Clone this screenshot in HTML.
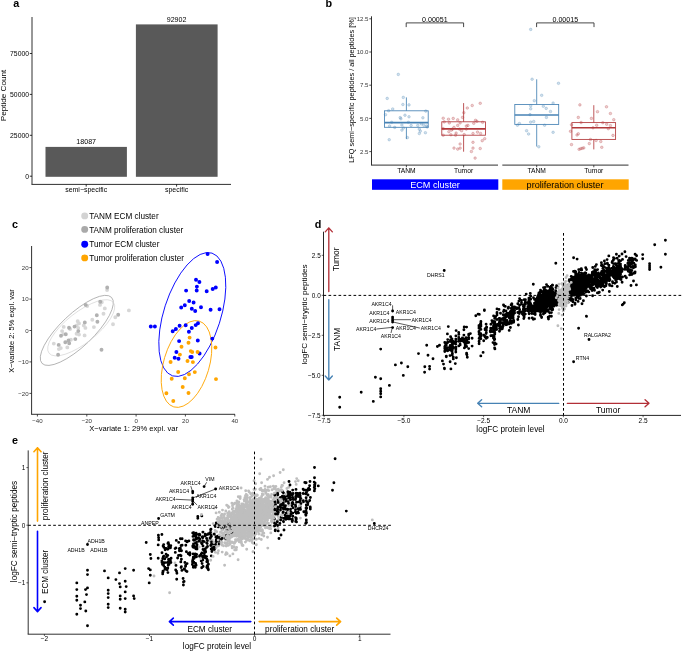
<!DOCTYPE html>
<html><head><meta charset="utf-8"><title>Figure</title>
<style>html,body{margin:0;padding:0;background:#fff}svg{display:block;will-change:transform}text{font-family:"Liberation Sans",sans-serif}</style>
</head><body>
<svg width="685" height="653" viewBox="0 0 685 653">
<rect width="685" height="653" fill="#fff"/>
<text x="13.2" y="7.2" font-size="10.8" font-weight="bold">a</text>
<line x1="32" y1="17" x2="32" y2="184.4" stroke="#303030" stroke-width="1.0"/>
<line x1="31.5" y1="184.4" x2="231" y2="184.4" stroke="#303030" stroke-width="1.0"/>
<line x1="29.8" y1="176.2" x2="32" y2="176.2" stroke="#000" stroke-width="0.8"/>
<text x="29" y="178.6" font-size="6.8" text-anchor="end">0</text>
<line x1="29.8" y1="135.3" x2="32" y2="135.3" stroke="#000" stroke-width="0.8"/>
<text x="29" y="137.7" font-size="6.8" text-anchor="end">25000</text>
<line x1="29.8" y1="94.4" x2="32" y2="94.4" stroke="#000" stroke-width="0.8"/>
<text x="29" y="96.8" font-size="6.8" text-anchor="end">50000</text>
<line x1="29.8" y1="53.5" x2="32" y2="53.5" stroke="#000" stroke-width="0.8"/>
<text x="29" y="55.9" font-size="6.8" text-anchor="end">75000</text>
<rect x="45.5" y="146.9" width="81.4" height="29.9" fill="#595959"/>
<rect x="135.9" y="24.4" width="81.7" height="152.4" fill="#595959"/>
<text x="86.2" y="144.4" font-size="7.1" text-anchor="middle">18087</text>
<text x="176.6" y="22" font-size="7.1" text-anchor="middle">92902</text>
<line x1="86.2" y1="184.4" x2="86.2" y2="186.6" stroke="#000" stroke-width="0.8"/>
<text x="86.2" y="191.9" font-size="6.95" text-anchor="middle">semi−specific</text>
<line x1="176.6" y1="184.4" x2="176.6" y2="186.6" stroke="#000" stroke-width="0.8"/>
<text x="176.6" y="191.9" font-size="6.95" text-anchor="middle">specific</text>
<text transform="translate(6.2 95.5) rotate(-90)" font-size="8.1" text-anchor="middle">Peptide Count</text>
<text x="325.6" y="7.3" font-size="10.8" font-weight="bold">b</text>
<line x1="371.5" y1="16.3" x2="371.5" y2="165.1" stroke="#303030" stroke-width="1.0"/>
<line x1="371" y1="165.1" x2="498" y2="165.1" stroke="#303030" stroke-width="1.0"/>
<line x1="502.3" y1="165.1" x2="628.5" y2="165.1" stroke="#303030" stroke-width="1.0"/>
<line x1="369.3" y1="151.6" x2="371.5" y2="151.6" stroke="#222" stroke-width="0.8"/>
<text x="368.5" y="153.8" font-size="6.1" text-anchor="end" fill="#363636">2.5</text>
<line x1="369.3" y1="118.4" x2="371.5" y2="118.4" stroke="#222" stroke-width="0.8"/>
<text x="368.5" y="120.6" font-size="6.1" text-anchor="end" fill="#363636">5.0</text>
<line x1="369.3" y1="85.2" x2="371.5" y2="85.2" stroke="#222" stroke-width="0.8"/>
<text x="368.5" y="87.4" font-size="6.1" text-anchor="end" fill="#363636">7.5</text>
<line x1="369.3" y1="52" x2="371.5" y2="52" stroke="#222" stroke-width="0.8"/>
<text x="368.5" y="54.2" font-size="6.1" text-anchor="end" fill="#363636">10.0</text>
<line x1="369.3" y1="18.8" x2="371.5" y2="18.8" stroke="#222" stroke-width="0.8"/>
<text x="368.5" y="21" font-size="6.1" text-anchor="end" fill="#363636">12.5</text>
<text transform="translate(353.5 90) rotate(-90)" font-size="7.3" text-anchor="middle">LFQ semi−specific peptides / all peptides [%]</text>
<g fill="#4682b4" fill-opacity="0.25" stroke="#4682b4" stroke-opacity="0.5" stroke-width="0.5">
<circle cx="398.3" cy="74.4" r="1.3"/><circle cx="387.2" cy="98.4" r="1.3"/><circle cx="403.3" cy="97.4" r="1.3"/><circle cx="402.9" cy="104.5" r="1.3"/><circle cx="409" cy="104.9" r="1.3"/><circle cx="392.7" cy="109" r="1.3"/><circle cx="388.6" cy="110.7" r="1.3"/><circle cx="385.5" cy="114.7" r="1.3"/><circle cx="425.8" cy="111.1" r="1.3"/><circle cx="405" cy="115.2" r="1.3"/><circle cx="409" cy="116.8" r="1.3"/><circle cx="422.9" cy="117.8" r="1.3"/><circle cx="400.9" cy="118.8" r="1.3"/><circle cx="391.7" cy="122.3" r="1.3"/><circle cx="408.4" cy="122.3" r="1.3"/><circle cx="401.9" cy="125" r="1.3"/><circle cx="389.6" cy="126" r="1.3"/><circle cx="394.7" cy="127.4" r="1.3"/><circle cx="411.1" cy="125.4" r="1.3"/><circle cx="417.8" cy="125.4" r="1.3"/><circle cx="421.3" cy="123.9" r="1.3"/><circle cx="426.4" cy="126" r="1.3"/><circle cx="403.5" cy="128" r="1.3"/><circle cx="401.9" cy="130.1" r="1.3"/><circle cx="419.3" cy="129.1" r="1.3"/><circle cx="420.3" cy="131.1" r="1.3"/><circle cx="419.3" cy="133.5" r="1.3"/><circle cx="425.4" cy="132.7" r="1.3"/><circle cx="407.4" cy="137.6" r="1.3"/><circle cx="389.2" cy="139.7" r="1.3"/><circle cx="400.2" cy="117.6" r="1.3"/><circle cx="423.8" cy="125.2" r="1.3"/><circle cx="427.2" cy="127" r="1.3"/>
</g>
<line x1="406.4" y1="97.4" x2="406.4" y2="110.8" stroke="#4682b4" stroke-width="0.85"/>
<line x1="406.4" y1="127.3" x2="406.4" y2="139.1" stroke="#4682b4" stroke-width="0.85"/>
<rect x="384.5" y="110.8" width="43.7" height="16.5" fill="none" stroke="#4682b4" stroke-width="0.85"/>
<line x1="384.5" y1="122.6" x2="428.2" y2="122.6" stroke="#4682b4" stroke-width="1.6"/>
<g fill="#b2393b" fill-opacity="0.25" stroke="#b2393b" stroke-opacity="0.5" stroke-width="0.5">
<circle cx="480.2" cy="103.3" r="1.3"/><circle cx="472.2" cy="105.5" r="1.3"/><circle cx="467.3" cy="108" r="1.3"/><circle cx="463.8" cy="112.7" r="1.3"/><circle cx="462.6" cy="117.4" r="1.3"/><circle cx="443.2" cy="118.2" r="1.3"/><circle cx="448.5" cy="119.2" r="1.3"/><circle cx="453.2" cy="118.4" r="1.3"/><circle cx="457.7" cy="119.9" r="1.3"/><circle cx="475.5" cy="120.3" r="1.3"/><circle cx="476.9" cy="121.3" r="1.3"/><circle cx="482.6" cy="122.3" r="1.3"/><circle cx="444.2" cy="121.9" r="1.3"/><circle cx="449.3" cy="122.9" r="1.3"/><circle cx="460.1" cy="122.9" r="1.3"/><circle cx="473.8" cy="123.3" r="1.3"/><circle cx="457.7" cy="125.4" r="1.3"/><circle cx="466.3" cy="126" r="1.3"/><circle cx="467.9" cy="125.4" r="1.3"/><circle cx="454" cy="127.4" r="1.3"/><circle cx="452.4" cy="129.1" r="1.3"/><circle cx="443.2" cy="128.6" r="1.3"/><circle cx="459.5" cy="129.1" r="1.3"/><circle cx="466.3" cy="129.1" r="1.3"/><circle cx="451.4" cy="130.1" r="1.3"/><circle cx="461.6" cy="130.7" r="1.3"/><circle cx="448.9" cy="131.7" r="1.3"/><circle cx="477.5" cy="132.1" r="1.3"/><circle cx="456.1" cy="133.1" r="1.3"/><circle cx="473" cy="133.5" r="1.3"/><circle cx="480.6" cy="133.5" r="1.3"/><circle cx="464.2" cy="134.6" r="1.3"/><circle cx="443.2" cy="135.2" r="1.3"/><circle cx="450.9" cy="134.8" r="1.3"/><circle cx="455.6" cy="135.2" r="1.3"/><circle cx="484.7" cy="138.7" r="1.3"/><circle cx="482.2" cy="140.7" r="1.3"/><circle cx="473" cy="142.3" r="1.3"/><circle cx="460.1" cy="144" r="1.3"/><circle cx="454" cy="148.1" r="1.3"/><circle cx="457.7" cy="149.1" r="1.3"/><circle cx="460.1" cy="148.1" r="1.3"/><circle cx="473" cy="148.1" r="1.3"/><circle cx="480.2" cy="148.5" r="1.3"/><circle cx="471.4" cy="151.5" r="1.3"/><circle cx="475.1" cy="158.1" r="1.3"/>
</g>
<line x1="463.6" y1="103.1" x2="463.6" y2="121.8" stroke="#b2393b" stroke-width="0.85"/>
<line x1="463.6" y1="135.2" x2="463.6" y2="151.7" stroke="#b2393b" stroke-width="0.85"/>
<rect x="441.8" y="121.8" width="43.7" height="13.4" fill="none" stroke="#b2393b" stroke-width="0.85"/>
<line x1="441.8" y1="128.9" x2="485.5" y2="128.9" stroke="#b2393b" stroke-width="1.6"/>
<g fill="#4682b4" fill-opacity="0.25" stroke="#4682b4" stroke-opacity="0.5" stroke-width="0.5">
<circle cx="530.7" cy="29.4" r="1.3"/><circle cx="532.1" cy="79.2" r="1.3"/><circle cx="558.5" cy="83.3" r="1.3"/><circle cx="541.7" cy="95.3" r="1.3"/><circle cx="534.3" cy="100.7" r="1.3"/><circle cx="553.1" cy="103.1" r="1.3"/><circle cx="530.7" cy="105.8" r="1.3"/><circle cx="543.3" cy="106.2" r="1.3"/><circle cx="530.7" cy="108.8" r="1.3"/><circle cx="546.2" cy="108.4" r="1.3"/><circle cx="550.5" cy="111.5" r="1.3"/><circle cx="530" cy="114.6" r="1.3"/><circle cx="546.4" cy="117.4" r="1.3"/><circle cx="530.7" cy="122.1" r="1.3"/><circle cx="533.7" cy="121.5" r="1.3"/><circle cx="519.4" cy="123.5" r="1.3"/><circle cx="517.4" cy="125.2" r="1.3"/><circle cx="544.6" cy="125.2" r="1.3"/><circle cx="526.6" cy="130.7" r="1.3"/><circle cx="528.6" cy="134" r="1.3"/><circle cx="553.1" cy="132.3" r="1.3"/><circle cx="538.8" cy="146.8" r="1.3"/>
</g>
<line x1="536.7" y1="79.3" x2="536.7" y2="104.5" stroke="#4682b4" stroke-width="0.85"/>
<line x1="536.7" y1="124.4" x2="536.7" y2="146.5" stroke="#4682b4" stroke-width="0.85"/>
<rect x="514.8" y="104.5" width="43.9" height="19.9" fill="none" stroke="#4682b4" stroke-width="0.85"/>
<line x1="514.8" y1="115" x2="558.7" y2="115" stroke="#4682b4" stroke-width="1.6"/>
<g fill="#b2393b" fill-opacity="0.25" stroke="#b2393b" stroke-opacity="0.5" stroke-width="0.5">
<circle cx="579.9" cy="104.9" r="1.3"/><circle cx="606.5" cy="106.8" r="1.3"/><circle cx="597.5" cy="111.7" r="1.3"/><circle cx="610.4" cy="113.5" r="1.3"/><circle cx="578.3" cy="117.4" r="1.3"/><circle cx="591.4" cy="118.4" r="1.3"/><circle cx="613.8" cy="119.7" r="1.3"/><circle cx="581.1" cy="122.5" r="1.3"/><circle cx="602.8" cy="122.7" r="1.3"/><circle cx="606.7" cy="124.2" r="1.3"/><circle cx="596.7" cy="125.2" r="1.3"/><circle cx="610.4" cy="125.6" r="1.3"/><circle cx="571.5" cy="124.8" r="1.3"/><circle cx="593" cy="127.8" r="1.3"/><circle cx="608.3" cy="128.7" r="1.3"/><circle cx="570.5" cy="131.3" r="1.3"/><circle cx="578.3" cy="133.8" r="1.3"/><circle cx="577" cy="135" r="1.3"/><circle cx="613" cy="135.4" r="1.3"/><circle cx="590.5" cy="139.5" r="1.3"/><circle cx="596.1" cy="140.5" r="1.3"/><circle cx="600.8" cy="141.5" r="1.3"/><circle cx="589.3" cy="143.6" r="1.3"/><circle cx="571.5" cy="144.6" r="1.3"/><circle cx="601.8" cy="147.3" r="1.3"/><circle cx="579.1" cy="149.3" r="1.3"/><circle cx="580.7" cy="148.7" r="1.3"/><circle cx="582.2" cy="148.3" r="1.3"/><circle cx="583.8" cy="147.9" r="1.3"/>
</g>
<line x1="593.8" y1="105.2" x2="593.8" y2="122.6" stroke="#b2393b" stroke-width="0.85"/>
<line x1="593.8" y1="139.4" x2="593.8" y2="149.4" stroke="#b2393b" stroke-width="0.85"/>
<rect x="571.9" y="122.6" width="43.7" height="16.8" fill="none" stroke="#b2393b" stroke-width="0.85"/>
<line x1="571.9" y1="127.8" x2="615.6" y2="127.8" stroke="#b2393b" stroke-width="1.6"/>
<path d="M406.2 27.1V22.9H463.6V27.1" fill="none" stroke="#333" stroke-width="0.9"/>
<text x="434.9" y="21.6" font-size="7.1" text-anchor="middle">0.00051</text>
<path d="M536.6 27.1V22.9H594V27.1" fill="none" stroke="#333" stroke-width="0.9"/>
<text x="565.3" y="21.6" font-size="7.1" text-anchor="middle">0.00015</text>
<line x1="406.4" y1="165.1" x2="406.4" y2="167.3" stroke="#222" stroke-width="0.8"/>
<text x="406.4" y="172.8" font-size="6.7" text-anchor="middle">TANM</text>
<line x1="463.6" y1="165.1" x2="463.6" y2="167.3" stroke="#222" stroke-width="0.8"/>
<text x="463.6" y="172.8" font-size="6.7" text-anchor="middle">Tumor</text>
<line x1="536.7" y1="165.1" x2="536.7" y2="167.3" stroke="#222" stroke-width="0.8"/>
<text x="536.7" y="172.8" font-size="6.7" text-anchor="middle">TANM</text>
<line x1="593.8" y1="165.1" x2="593.8" y2="167.3" stroke="#222" stroke-width="0.8"/>
<text x="593.8" y="172.8" font-size="6.7" text-anchor="middle">Tumor</text>
<rect x="372" y="179.3" width="126.3" height="10.5" fill="#0000ff"/>
<rect x="502.3" y="179.3" width="126.4" height="10.5" fill="#ffa500"/>
<text x="435" y="187.7" font-size="9.1" text-anchor="middle" fill="#fff">ECM cluster</text>
<text x="565" y="187.7" font-size="9.1" text-anchor="middle">proliferation cluster</text>
<text x="12" y="228.1" font-size="10.8" font-weight="bold">c</text>
<circle cx="84.7" cy="215.9" r="3.45" fill="#d3d3d3"/>
<text x="89.2" y="219" font-size="8.2">TANM ECM cluster</text>
<circle cx="84.7" cy="229.4" r="3.45" fill="#a9a9a9"/>
<text x="89.2" y="232.5" font-size="8.2">TANM proliferation cluster</text>
<circle cx="84.7" cy="244.3" r="3.45" fill="#0000ff"/>
<text x="89.2" y="247.4" font-size="8.2">Tumor ECM cluster</text>
<circle cx="84.7" cy="257.9" r="3.45" fill="#ffa500"/>
<text x="89.2" y="261" font-size="8.2">Tumor proliferation cluster</text>
<line x1="31.6" y1="246" x2="31.6" y2="414.3" stroke="#303030" stroke-width="1.0"/>
<line x1="31.1" y1="414.3" x2="235" y2="414.3" stroke="#303030" stroke-width="1.0"/>
<line x1="29.4" y1="393.4" x2="31.6" y2="393.4" stroke="#222" stroke-width="0.8"/>
<text x="28.6" y="395.6" font-size="6.1" text-anchor="end" fill="#363636">−20</text>
<line x1="29.4" y1="361.9" x2="31.6" y2="361.9" stroke="#222" stroke-width="0.8"/>
<text x="28.6" y="364.1" font-size="6.1" text-anchor="end" fill="#363636">−10</text>
<line x1="29.4" y1="330.5" x2="31.6" y2="330.5" stroke="#222" stroke-width="0.8"/>
<text x="28.6" y="332.7" font-size="6.1" text-anchor="end" fill="#363636">0</text>
<line x1="29.4" y1="299.1" x2="31.6" y2="299.1" stroke="#222" stroke-width="0.8"/>
<text x="28.6" y="301.2" font-size="6.1" text-anchor="end" fill="#363636">10</text>
<line x1="29.4" y1="267.6" x2="31.6" y2="267.6" stroke="#222" stroke-width="0.8"/>
<text x="28.6" y="269.8" font-size="6.1" text-anchor="end" fill="#363636">20</text>
<line x1="37.4" y1="414.3" x2="37.4" y2="416.5" stroke="#222" stroke-width="0.8"/>
<text x="37.4" y="422.5" font-size="6.1" text-anchor="middle" fill="#363636">−40</text>
<line x1="86.8" y1="414.3" x2="86.8" y2="416.5" stroke="#222" stroke-width="0.8"/>
<text x="86.8" y="422.5" font-size="6.1" text-anchor="middle" fill="#363636">−20</text>
<line x1="136.1" y1="414.3" x2="136.1" y2="416.5" stroke="#222" stroke-width="0.8"/>
<text x="136.1" y="422.5" font-size="6.1" text-anchor="middle" fill="#363636">0</text>
<line x1="185.4" y1="414.3" x2="185.4" y2="416.5" stroke="#222" stroke-width="0.8"/>
<text x="185.4" y="422.5" font-size="6.1" text-anchor="middle" fill="#363636">20</text>
<line x1="234.8" y1="414.3" x2="234.8" y2="416.5" stroke="#222" stroke-width="0.8"/>
<text x="234.8" y="422.5" font-size="6.1" text-anchor="middle" fill="#363636">40</text>
<text transform="translate(14 331) rotate(-90)" font-size="7.5" text-anchor="middle">X−variate 2: 5% expl. var</text>
<text x="133.6" y="431.2" font-size="7.6" text-anchor="middle">X−variate 1: 29% expl. var</text>
<ellipse cx="76.8" cy="330.4" rx="47.92" ry="16.37" transform="rotate(136.5 76.8 330.4)" fill="none" stroke="#9a9a9a" stroke-width="0.7"/>
<ellipse cx="81.2" cy="327.8" rx="41" ry="15.3" transform="rotate(-38.3 81.2 327.8)" fill="none" stroke="#cfcfcf" stroke-width="0.6"/>
<ellipse cx="192.3" cy="314.5" rx="64.47" ry="28.46" transform="rotate(107.8 192.3 314.5)" fill="none" stroke="#0000ff" stroke-width="0.85"/>
<ellipse cx="186.5" cy="364" rx="44.76" ry="22.82" transform="rotate(106.5 186.5 364)" fill="none" stroke="#ffa500" stroke-width="0.85"/>
<path d="M107.1 290h0M101.8 302.2h0M100 304.9h0M87.2 306h0M104.8 308.4h0M128.9 310.4h0M103.5 313.7h0M115.3 317.3h0M92.3 319.8h0M113 324.2h0M77.7 321.3h0M79 323.4h0M76.6 325.4h0M83.8 325.4h0M85.4 327.9h0M93.9 327.1h0M78.2 327.9h0M63.7 326.9h0M70.1 329h0M62.1 331.1h0M76.6 333.8h0M79 334.6h0M84.6 335.4h0M63.4 334.1h0M70.9 339.7h0M53.8 343.6h0M67.3 347.4h0M60.8 348.1h0M58.9 349.1h0" stroke="#d3d3d3" stroke-width="3.9" stroke-linecap="round" fill="none" opacity="0.9"/>
<path d="M107.2 287.5h0M100.2 301.7h0M85.7 304.9h0M96.8 315.2h0M118.2 314.8h0M97.4 321.8h0M84.8 322.4h0M69 327.7h0M74.5 326.6h0M78.3 331.1h0M65.8 334.3h0M61 335.7h0M75.3 339.1h0M68.5 340.4h0M65.3 342.3h0M69.2 343.3h0M58.7 344.9h0M101.5 349.7h0M58.1 354.7h0" stroke="#a9a9a9" stroke-width="3.9" stroke-linecap="round" fill="none" opacity="0.9"/>
<path d="M207.6 254h0M217.1 261.9h0M196 279.8h0M199.4 282h0M196.9 286.6h0M196.7 290.5h0M186.1 290.6h0M206.7 291.3h0M212.7 288.9h0M215.8 287.5h0M189.2 301h0M193.6 302.5h0M184.8 305.2h0M181.2 307.4h0M191.8 308.7h0M195.2 311h0M201 307.3h0M210.6 309.7h0M219.5 309.2h0M150.8 326.4h0M154.9 326.4h0M179.6 325.8h0M185.7 325.3h0M175.9 329h0M172.7 331.3h0M191.8 327.9h0M188.9 331.8h0M195.7 325.1h0M198 323.2h0M179.1 341.1h0M197.8 340.4h0M212.3 338.6h0M176.4 351.9h0M199.6 353.5h0M174.7 357.7h0M178.5 358.8h0M190.4 357h0M191.7 357h0" stroke="#0000ff" stroke-width="3.95" stroke-linecap="round" fill="none"/>
<path d="M189.6 337.6h0M188.5 342.8h0M181.5 346.8h0M215.5 347.5h0M190.8 351.1h0M192.2 351.9h0M197.6 351.9h0M179.9 354.6h0M170.6 361.9h0M187.5 360.9h0M192.9 362.1h0M178.2 371.9h0M189 374.2h0M194.8 372.1h0M171.7 378.7h0M184.8 378.2h0M216 379.1h0M182.7 387h0M166.4 393.3h0M188.5 392.9h0M173.3 401h0" stroke="#ffa500" stroke-width="3.95" stroke-linecap="round" fill="none"/>
<text x="314.7" y="227.7" font-size="10.8" font-weight="bold">d</text>
<line x1="323.5" y1="231.7" x2="323.5" y2="415.4" stroke="#262626" stroke-width="1.0"/>
<line x1="323" y1="415.4" x2="681" y2="415.4" stroke="#262626" stroke-width="1.0"/>
<line x1="321.7" y1="255.3" x2="323.5" y2="255.3" stroke="#000" stroke-width="0.6"/>
<text x="320.7" y="257.6" font-size="6.4" text-anchor="end">2.5</text>
<line x1="321.7" y1="295.3" x2="323.5" y2="295.3" stroke="#000" stroke-width="0.6"/>
<text x="320.7" y="297.6" font-size="6.4" text-anchor="end">0.0</text>
<line x1="321.7" y1="335.3" x2="323.5" y2="335.3" stroke="#000" stroke-width="0.6"/>
<text x="320.7" y="337.6" font-size="6.4" text-anchor="end">−2.5</text>
<line x1="321.7" y1="375.3" x2="323.5" y2="375.3" stroke="#000" stroke-width="0.6"/>
<text x="320.7" y="377.6" font-size="6.4" text-anchor="end">−5.0</text>
<line x1="321.7" y1="415.3" x2="323.5" y2="415.3" stroke="#000" stroke-width="0.6"/>
<text x="320.7" y="417.6" font-size="6.4" text-anchor="end">−7.5</text>
<line x1="324.1" y1="415.4" x2="324.1" y2="417.2" stroke="#000" stroke-width="0.6"/>
<text x="324.1" y="423.4" font-size="6.5" text-anchor="middle">−7.5</text>
<line x1="403.9" y1="415.4" x2="403.9" y2="417.2" stroke="#000" stroke-width="0.6"/>
<text x="403.9" y="423.4" font-size="6.5" text-anchor="middle">−5.0</text>
<line x1="483.6" y1="415.4" x2="483.6" y2="417.2" stroke="#000" stroke-width="0.6"/>
<text x="483.6" y="423.4" font-size="6.5" text-anchor="middle">−2.5</text>
<line x1="563.4" y1="415.4" x2="563.4" y2="417.2" stroke="#000" stroke-width="0.6"/>
<text x="563.4" y="423.4" font-size="6.5" text-anchor="middle">0.0</text>
<line x1="643.1" y1="415.4" x2="643.1" y2="417.2" stroke="#000" stroke-width="0.6"/>
<text x="643.1" y="423.4" font-size="6.5" text-anchor="middle">2.5</text>
<text transform="translate(307.2 314.5) rotate(-90)" font-size="8.1" text-anchor="middle">logFC semi−tryptic peptides</text>
<text x="510.5" y="431.6" font-size="8.2" text-anchor="middle">logFC protein level</text>
<path d="M328.8 291.5L328.8 227.9M332.35 231.84L328.8 227.9L325.25 231.84" fill="none" stroke="#b22f37" stroke-width="1.35" stroke-linecap="round" stroke-linejoin="round"/>
<path d="M328.8 299.7L328.8 380M325.25 376.06L328.8 380L332.35 376.06" fill="none" stroke="#4682b4" stroke-width="1.35" stroke-linecap="round" stroke-linejoin="round"/>
<path d="M558.8 403.3L477.7 403.3M481.64 399.75L477.7 403.3L481.64 406.85" fill="none" stroke="#4682b4" stroke-width="1.35" stroke-linecap="round" stroke-linejoin="round"/>
<path d="M567.3 403.3L649 403.3M645.06 406.85L649 403.3L645.06 399.75" fill="none" stroke="#b22f37" stroke-width="1.35" stroke-linecap="round" stroke-linejoin="round"/>
<text transform="translate(339.2 259.4) rotate(-90)" font-size="8.4" text-anchor="middle">Tumor</text>
<text transform="translate(339.6 339.4) rotate(-90)" font-size="8.4" text-anchor="middle">TANM</text>
<text x="518.7" y="413.2" font-size="8.5" text-anchor="middle">TANM</text>
<text x="608.1" y="413.2" font-size="8.5" text-anchor="middle">Tumor</text>
<path d="M565.4 296.6h0M558.2 286.8h0M568.6 289.8h0M562.4 306.5h0M566.5 287.1h0M562 292.6h0M557.1 299h0M555.1 300.7h0M562 298.2h0M565.8 303.8h0M562.8 294.8h0M563.6 297.1h0M560.3 305.1h0M563.5 294.9h0M563.9 284.4h0M565 293.7h0M561.1 298.6h0M568.7 288.8h0M567.1 292.7h0M565.9 291.9h0M560.7 304.9h0M564.4 309h0M566.4 296.8h0M564.9 292.3h0M562.6 297.7h0M564.3 295.5h0M561.6 306.2h0M567.2 288.4h0M558.1 297.2h0M565.9 301.4h0M568.7 294.5h0M563.8 290.6h0M565 298.8h0M555.3 298.7h0M559.1 297.8h0M567.1 291.3h0M566 306h0M567.2 286.7h0M559.2 305.5h0M560 292.1h0M567 296.7h0M558 297.4h0M565.3 288.7h0M562.2 295.2h0M562.6 297.5h0M559.6 294h0M567.4 287h0M562.5 299.6h0M566.7 290.1h0M563.2 294.6h0M565.7 281.4h0M565.4 288.2h0M563.4 302.6h0M568.8 297.3h0M559.6 299.7h0M568.2 297.7h0M567.8 290.2h0M563.9 290.8h0M562.8 288.8h0M560.2 295.4h0M566.2 289.8h0M562.7 303.8h0M568.4 298.5h0M564.8 286.5h0M564.6 296.6h0M563.4 302.3h0M560.8 300.5h0M562.8 301.3h0M563.8 294.5h0M559.7 297.3h0M568.6 280.9h0M558.5 296.2h0M558.8 313.4h0M561.9 290.7h0M563.5 296.1h0M564.8 295h0M562.4 290.9h0M567.1 275.6h0M564.3 304.2h0M564.6 305.9h0M559.7 297.5h0M561.5 293.2h0M563.6 288.1h0M568.7 286.4h0M567 287.6h0M564.3 297.5h0M558.5 295.5h0M559.3 291.5h0M564.1 293.9h0M563 296.3h0M562.2 301.6h0M563.4 292.4h0M564.4 298.7h0M560.7 291.4h0M561 296.7h0M563.2 288h0M560.7 302h0M567.5 292.6h0M564.6 288.5h0M565.8 301.2h0M563.6 292.8h0M562.2 300h0M564.4 282.6h0M560.2 305h0M565.8 298.9h0M563.1 306.7h0M563.9 293.5h0M564.5 295.4h0M564.8 291.7h0M559.1 309.6h0M559.3 290.2h0M564.8 294.1h0M564.9 293.7h0M566 277.5h0M564.4 294.6h0M563.2 286.9h0M561.1 295h0M569 288.6h0M563.4 291.4h0M567.1 285.3h0M565.7 295.7h0M561.3 297.7h0M570.9 294.6h0M565.1 283.9h0M562 290h0M562.6 308.5h0M562.3 290.2h0M563.9 308.4h0M560.4 299.8h0M561.1 289.9h0M566.6 290.3h0M564.9 294.4h0M563.5 299.9h0M561.4 302.7h0M561.7 302h0M566.4 299.6h0M562.9 285.2h0M568.4 291.4h0M557.9 325.7h0M561.3 328.6h0M563.2 311h0M563.8 306.5h0M562.5 303.8h0" stroke="#bebebe" stroke-width="2.9" stroke-linecap="round" fill="none"/>
<path d="M543.4 304.6h0M543.4 304.2h0M543.4 299.4h0M543.4 314h0M543.4 306.4h0M546 292.4h0M546 297.6h0M446.3 350.2h0M446.3 356.7h0M446.3 356.2h0M446.3 356.1h0M446.3 348.5h0M446.3 349.2h0M446.3 345h0M513.7 313.7h0M513.7 321.8h0M513.7 320.5h0M509.1 323.9h0M509.1 315.4h0M486.3 329h0M486.3 332.6h0M486.3 330.4h0M511.1 314h0M511.1 308.4h0M511.1 314.9h0M511.1 313.2h0M511.1 305h0M511.1 311.3h0M510.4 320.6h0M510.4 320.9h0M510.4 315.1h0M528.1 302.4h0M545.6 295.5h0M545.6 292.7h0M545.6 301.2h0M545.6 297.2h0M545.6 298.5h0M552.6 299.9h0M552.6 300h0M552.6 291.4h0M552.6 309.8h0M523.4 305.1h0M502.6 318.7h0M556.7 299.8h0M556.7 292.7h0M556.7 294.1h0M556.2 295.4h0M556.2 293.8h0M556.2 300.6h0M533.7 310.8h0M533.7 307h0M519.6 305.3h0M519.6 309.5h0M519.6 298.8h0M519.6 311.4h0M546.5 294.9h0M538.4 295.6h0M538.4 307.8h0M538.4 306.8h0M538.4 301.1h0M550.3 299.4h0M550.3 301.1h0M550.3 292.7h0M550.3 294.1h0M550.3 288.8h0M550.3 299.7h0M546.7 298.3h0M546.7 303.6h0M547.7 291h0M547.7 298.8h0M547.7 300.2h0M547.7 303.9h0M547.7 297.1h0M531.6 305.6h0M531.6 306.8h0M531.6 310.1h0M513.9 311.3h0M493.5 325.9h0M493.5 328.2h0M493.5 321.4h0M493.5 326.7h0M545.4 303.2h0M494.8 321.7h0M494.8 322.9h0M494.8 321.8h0M553.3 293.1h0M511.5 321.3h0M511.5 322.1h0M511.5 314.9h0M511.5 322h0M553.4 297.7h0M542 298.7h0M542 298h0M542 301h0M542 291.8h0M542 297.8h0M460.1 344.9h0M460.1 341.3h0M460.1 344.3h0M460.1 339.3h0M536.2 306.5h0M536.2 306.9h0M544.9 305.7h0M551.4 316.3h0M551.4 303.5h0M551.4 303.2h0M551.4 309.6h0M551.4 312.6h0M495.6 328.1h0M495.6 325.8h0M495.6 316.8h0M539.4 305.9h0M539.4 294.9h0M539.4 300.3h0M555.7 296.9h0M555.7 294.5h0M555.7 290.7h0M541.6 294.9h0M541.6 303.8h0M541.6 300.2h0M556.6 295.3h0M556.6 294.3h0M556.6 292.8h0M556.6 285.8h0M556.6 305.3h0M523.8 318.6h0M523.8 306.6h0M486.1 330.3h0M486.1 330.4h0M486.1 324.2h0M486.1 327.7h0M486.1 333.5h0M486.1 337h0M486.1 338.4h0M513.1 318.3h0M513.1 317.2h0M539.1 308.8h0M539.1 304.2h0M548.8 292.8h0M548.8 294.8h0M548.8 299.9h0M548.1 305.5h0M548.1 291.4h0M548.1 298.5h0M548.1 292.1h0M548.3 318h0M548.3 294.7h0M466.6 353.3h0M466.6 354.2h0M466.6 342h0M466.6 339.6h0M466.6 340.8h0M466.6 346.4h0M466.6 343.2h0M502.7 327.6h0M502.7 327h0M502.7 319.6h0M450.6 336.7h0M450.6 340h0M450.6 346.9h0M450.6 348.6h0M450.6 347.1h0M544.7 292.5h0M544.7 299.5h0M544.7 295.2h0M544.7 292.8h0M539.9 302.2h0M453.8 347.6h0M453.8 341.6h0M453.8 343.4h0M453.8 343.3h0M493.5 328.9h0M493.5 329.6h0M539.6 300.8h0M549.3 299.4h0M549.3 293.9h0M549.3 305.9h0M503.2 318.5h0M503.2 314.8h0M503.2 324.7h0M503.2 318.6h0M544.1 309.6h0M544.1 310.6h0M543.8 301.7h0M543.8 294.7h0M493.4 338h0M493.4 329h0M553.1 292.5h0M553.1 292.4h0M546.2 307.3h0M546.2 303.2h0M546.2 298.8h0M546.2 304.6h0M547.8 297.4h0M547.8 297.9h0M547.8 301.4h0M518.5 316.7h0M503.6 323.2h0M503.6 319.7h0M503.6 317.9h0M549.3 301.1h0M522.4 314h0M546.3 291h0M546.3 297.8h0M546.3 296.7h0M538.4 300h0M538.4 308.8h0M538.4 298.7h0M538.4 301h0M553.4 301.2h0M553.4 303.6h0M553.4 302.1h0M553.4 299.5h0M538.3 304.6h0M538.3 311.1h0M450.2 345.5h0M450.2 347.9h0M450.2 346.3h0M450.2 345.9h0M450.2 341.4h0M450.2 350h0M450.2 347.2h0M445.2 346.3h0M445.2 343.5h0M445.2 348.4h0M445.2 346.4h0M445.2 342.6h0M553.7 294.2h0M553.7 296.7h0M553.7 302h0M553.7 293.2h0M553.7 294.4h0M553.7 300.1h0M546.9 303.3h0M549.8 298.6h0M549.8 307h0M549.8 316.2h0M524.2 309.8h0M524.2 312.2h0M524.2 317.1h0M524.2 315.1h0M524.2 299.8h0M545.4 296h0M545.4 304.5h0M546.3 301.2h0M546.3 307.8h0M546.3 306.7h0M546.3 305.6h0M546.3 297.2h0M549.3 293.9h0M549.3 301.1h0M549.3 298.8h0M540.1 304.8h0M525.4 299.7h0M525.4 309.3h0M525.4 302h0M479 325.5h0M479 328.3h0M479 332h0M479 327h0M479 331.4h0M523.4 311.3h0M523.4 306.6h0M546 303.8h0M546 299.1h0M546 304.5h0M546 302.6h0M506.5 316.2h0M552.7 304.3h0M552.7 300.1h0M552.7 294.8h0M505.3 314.6h0M505.3 317.4h0M505.3 306.4h0M541 303.7h0M541 299.2h0M541.8 301.5h0M493.1 331.8h0M545.3 305.7h0M545.3 298h0M533.6 308.2h0M498.1 324.2h0M498.1 324.2h0M525.3 314.1h0M525.3 304.3h0M525.3 310.7h0M542.9 302.7h0M542.9 305.4h0M542.9 298.7h0M542.9 301h0M542.9 311.3h0M537.2 308.3h0M539.8 299.4h0M539.8 305.5h0M539.8 298.8h0M539.8 295.6h0M539.8 303.1h0M552.6 304.9h0M552.6 299.7h0M552.6 285.3h0M552.6 299.1h0M552.6 303.2h0M548.6 290.7h0M548.6 299.9h0M548.6 300.3h0M548.6 298.5h0M524.3 309.3h0M524.3 310.1h0M524.3 306.4h0M524.3 310.5h0M505.4 317.7h0M496.6 329.5h0M527.9 303.4h0M527.9 306.6h0M527.9 308.5h0M527.9 310.9h0M538.5 297.5h0M538.5 296.1h0M538.5 294.7h0M550 304.8h0M550 308.3h0M536.1 305.3h0M536.1 307.6h0M536.1 310.2h0M493 328h0M493 342.6h0M557.3 302.5h0M557.3 287.2h0M557.3 295.6h0M557.3 301.3h0M510.3 313.3h0M510.3 318.2h0M541.4 300h0M541.4 308h0M468.7 334.3h0M468.7 334.9h0M468.7 339h0M468.7 342.5h0M468.7 334.6h0M468.7 337.5h0M468.7 348.6h0M552.8 305.5h0M552.8 296.5h0M545.4 298.2h0M545.4 301.8h0M545.4 298.3h0M545.4 301h0M545.4 305.3h0M545.4 309.6h0M549.7 297.5h0M549.7 303.5h0M549.7 312.7h0M549.7 304.8h0M550.4 296.6h0M490.9 331.7h0M490.9 324.3h0M490.9 331.7h0M490.9 331.2h0M490.9 330.6h0M490.9 335.8h0M500.1 318.7h0M500.1 325.7h0M500.1 321.8h0M453.3 357.3h0M453.3 358.9h0M544 304.9h0M544 300.6h0M552.3 293.8h0M552.3 285.3h0M552.3 288.4h0M528.7 303.9h0M528.7 309.7h0M528.7 305.3h0M528.7 311.3h0M528.7 304.7h0M528.7 307.5h0M517.8 312.5h0M517.8 303.7h0M517.8 319.5h0M546.8 296.9h0M546.8 302.9h0M546.8 306.4h0M546.8 302.8h0M546.8 304h0M546.8 306.2h0M452.4 353.4h0M452.4 341.2h0M452.4 345.7h0M452.4 349.7h0M452.4 345.1h0M452.4 342.2h0M452.4 343.1h0M499.9 324.2h0M499.9 322.6h0M499.9 320.7h0M455.8 348.4h0M455.8 349.7h0M455.8 344.1h0M455.8 339.1h0M455.8 352.1h0M538.9 302.8h0M538.9 296.8h0M538.9 293h0M541.6 298.7h0M541.6 296.4h0M504.3 318.4h0M470.4 333.6h0M483.7 340.8h0M483.7 335.2h0M556.2 298.7h0M556.2 298.2h0M556.2 294.6h0M556.2 299h0M466 337.7h0M466 342.8h0M466 343.4h0M544.6 306h0M544.6 295.7h0M544.6 293.3h0M465.2 346.9h0M465.2 346h0M465.2 344.6h0M444.8 351.5h0M444.8 342.4h0M444.8 351h0M444.8 348.1h0M444.8 346.8h0M444.8 348.5h0M444.8 342.4h0M513.6 312.3h0M513.6 307.2h0M513.6 307.3h0M513.6 309.5h0M513.6 308.6h0M513.6 322.3h0M549.6 302.7h0M549.6 302.2h0M549.6 298.9h0M479.1 338.4h0M479.1 334.3h0M479.1 343.7h0M479.1 341.6h0M479.1 341.2h0M492.5 322h0M492.5 321h0M492.5 321.2h0M492.5 335.7h0M541.3 297.5h0M544.1 304.8h0M549.7 292.5h0M549.7 296.8h0M549.7 303.6h0M544.8 303.5h0M539.9 309.2h0M539.9 294.5h0M539.9 304h0M539.9 300.7h0M543.2 307.4h0M543.2 299.5h0M543.2 305.5h0M543.2 304.1h0M543.2 301.2h0M543.2 306.8h0M546.3 309.5h0M546.3 307h0M546.3 298.8h0M546.3 302.6h0M544.7 295.8h0M544.7 302.1h0M544.7 292.9h0M544.7 294.7h0M540.9 308.3h0M540.9 297h0M543.7 306.3h0M543.7 299.8h0M532 308.7h0M463.9 339.2h0M463.9 340.5h0M463.9 335.1h0M463.9 329.8h0M511.2 314.4h0M511.2 316.4h0M545.8 297.2h0M545.8 290.4h0M545.8 307.8h0M550.7 302.4h0M550.7 292.8h0M550.7 295.2h0M493.6 315.9h0M480.9 321.5h0M480.9 326.3h0M480.9 334.2h0M480.9 336.2h0M480.9 324.9h0M480.9 329.4h0M480.9 334.1h0M533.2 319.3h0M533.2 310.4h0M533.2 307.9h0M548.8 293h0M548.8 304.6h0M536.2 300.4h0M536.2 309.5h0M536.2 304.7h0M536.2 301.2h0M536.2 298.9h0M536.2 308.4h0M541.3 303.8h0M486.7 327.3h0M546.5 284.6h0M551.2 292.9h0M551.2 288.4h0M551.2 286.1h0M551.2 302.1h0M551.2 301.8h0M551.2 294.7h0M487.3 337.5h0M540.8 310.4h0M501.1 322.5h0M501.1 328.2h0M501.1 329.1h0M546.2 307.3h0M546.2 304.9h0M546.2 305.4h0M546.2 311.3h0M546.2 304.1h0M504 310.2h0M504 315.1h0M505 320.3h0M505 322.5h0M505 321.5h0M505 315.4h0M505 322.7h0M505 319h0M552.7 309.3h0M552.7 306.4h0M516.8 308.7h0M496.4 328h0M496.4 329.1h0M496.4 328.5h0M496.4 326.1h0M551.6 295.9h0M551.6 298.6h0M551.6 302.7h0M551.6 297.9h0M551.6 299.1h0M537.7 301.5h0M537.7 300.6h0M523.7 309.9h0M543.5 302.4h0M543.5 287.6h0M543.5 299.8h0M543.5 302.6h0M543.5 311h0M549.9 301.9h0M549.9 295h0M549.9 296.2h0M549.9 302.1h0M549.9 287.1h0M549.9 295h0M542.7 304h0M450 355.6h0M450 349.8h0M511.7 310.9h0M511.7 312.3h0M511.7 303.9h0M511.7 310.6h0M511.7 317.6h0M511.7 317.7h0M508.5 307.3h0M508.5 314.9h0M480.8 333.8h0M480.8 336.5h0M480.8 323h0M480.8 338.7h0M507.1 313.2h0M507.1 323.5h0M507.1 320.5h0M530.1 302.8h0M530.1 302.5h0M530.1 303.9h0M452 339h0M452 342.7h0M452 351.4h0M452 340.3h0M554.4 303.8h0M554.4 298.1h0M554.4 295h0M554.4 298h0M545.3 306.2h0M545.3 300.9h0M545.9 297.6h0M545.9 301.6h0M545.9 292.8h0M545.9 304.1h0M479.8 337.2h0M479.8 327.9h0M479.8 326.8h0M508.2 308.2h0M540.5 314.6h0M540.5 312h0M537.3 297.7h0M537.3 300.1h0M537.3 301.7h0M554.2 297.6h0M554.2 296.9h0M554.2 299.2h0M554.2 293h0M512.8 315.4h0M512.8 313.4h0M512.8 318.3h0M512.8 311.3h0M542.8 294.8h0M542.8 302.7h0M542.8 306.1h0M542.8 295.8h0M542.8 310.4h0M542.8 305.4h0M514.6 313.1h0M514.6 308.1h0M514.6 307h0M514.6 310.7h0M464.4 347.9h0M464.4 341.7h0M464.4 342.4h0M532.3 317.9h0M503.1 325.9h0M503.1 322.5h0M503.1 323.4h0M545.9 299.2h0M545.9 304h0M545.9 300h0M545.9 308.3h0M551 293.7h0M551 290.1h0M530.7 303.9h0M530.7 299.3h0M530.7 310.7h0M530.7 296.2h0M458.7 341.3h0M458.7 338.9h0M458.7 332.5h0M547 291.5h0M547 302.2h0M541.8 306h0M541.8 306.1h0M541.8 299.8h0M541.8 305h0M541.8 307.1h0M547.7 300.6h0M547.7 286.3h0M494 328.6h0M494 329.2h0M508.3 322.4h0M548.1 305.6h0M548.1 311.2h0M548.1 300.5h0M548.1 305.3h0M548.3 291h0M548.3 303.5h0M546.5 311h0M546.5 303.9h0M540.5 312.3h0M540.5 315.4h0M539.8 300.2h0M539.8 304.1h0M540.2 292.3h0M540.2 297.3h0M554.9 295.1h0M554.9 298.2h0M554.9 304.4h0M452.3 344.3h0M452.3 354.9h0M452.3 342.2h0M452.3 347.9h0M510.8 312.4h0M506 315.4h0M506 322.7h0M506 315.8h0M506 324.1h0M506 311h0M506 324.8h0M551.8 293.2h0M547 295h0M547 302.9h0M547 297.6h0M554.1 298.5h0M554.1 299.4h0M554.1 295.8h0M490.3 331.8h0M490.3 330.6h0M543.6 306.7h0M543.6 293.6h0M543.6 294.6h0M535.1 311.7h0M552.5 298.2h0M554.1 294.1h0M554.1 297.1h0M554.1 296.7h0M554.1 297.5h0M554.1 306h0M499.3 326.1h0M499.3 318.5h0M497 312.5h0M497 325.6h0M497 315.1h0M497 319.5h0M497 308.9h0M497 313.2h0M547.2 304.1h0M547.2 300.4h0M547.2 293.5h0M548.7 296.8h0M548.3 299.8h0M548.3 294h0M540.2 302.2h0M540.2 306.6h0M547 303.1h0M529 303.8h0M529 306.4h0M542.6 303.7h0M542.6 308h0M542.6 304.1h0M518.9 307.8h0M518.9 301.1h0M506.7 316.6h0M541.2 303.4h0M541.2 303h0M539.2 307.7h0M539.2 300.6h0M539.2 301.5h0M539.2 309.5h0M510.4 323.1h0M510.4 318.5h0M554.9 301.5h0M554.7 297.4h0M524.7 303.8h0M524.7 310.3h0M524.7 309.3h0M455.9 341.4h0M455.9 335.9h0M455.9 347.3h0M455.9 341.9h0M549.9 289.7h0M549.9 294.8h0M549.9 299.5h0M509.2 313.2h0M509.2 317.8h0M509.2 330.4h0M552.8 296.7h0M552.8 303.4h0M552.8 297.6h0M552.8 289.4h0M552.8 292.9h0M531.9 309.5h0M531.9 313.5h0M530.5 308.9h0M530.5 304.9h0M503.5 305h0M503.5 311.6h0M541.6 316.9h0M541.6 317.6h0M495.5 324.2h0M495.5 325.2h0M537.5 310.8h0M537.5 304.1h0M462.4 341.1h0M462.4 340.3h0M462.4 338h0M494.6 328h0M494.6 324.3h0M494.6 329.2h0M494.6 329.4h0M494.6 323.6h0M494.6 330.2h0M544.6 298.1h0M542.9 291.7h0M542.9 296.7h0M542.9 299.1h0M550.4 297.8h0M550.4 307.1h0M550.4 306h0M550.4 298.3h0M550.4 300.9h0M546.1 295.2h0M546.1 304h0M546.1 305.5h0M552.2 297.9h0M552.2 292.5h0M552.2 294.5h0M521.5 300.5h0M521.5 302.6h0M521.5 304.1h0M521.5 311.9h0M513.1 310.6h0M513.1 311.9h0M513.1 315.2h0M513.1 315.5h0M513.1 315h0M513.1 307.4h0M540.5 298.6h0M472.1 346.1h0M472.1 338.3h0M546.9 307.2h0M546.9 301.6h0M535.2 304.3h0M535.2 306.6h0M535.2 307.7h0M535.2 313.1h0M535.2 314.5h0M535.2 309.3h0M499.5 321.3h0M499.5 328.6h0M499.5 322.6h0M499.5 321.3h0M499.5 331.2h0M499.5 318.4h0M485.1 336.5h0M485.1 328.7h0M485.1 329.7h0M485.1 337h0M543.2 302.3h0M543.2 304.2h0M547.9 295.4h0M547.9 297.2h0M543.4 295h0M543.4 293.8h0M543.4 299.6h0M543.4 307h0M543.4 297.8h0M541.9 300.8h0M535.7 302h0M535.7 300.3h0M535.7 302.9h0M535.7 304.8h0M527.9 307.8h0M543.9 298.7h0M543.9 309.3h0M543.9 311.8h0M543.9 297.7h0M531.9 310.8h0M531.9 310.8h0M531.9 310.9h0M531.9 310.1h0M536.7 302.9h0M536.7 308.3h0M536.7 306.4h0M536.7 306h0M543.7 300h0M543.7 309.6h0M543.7 303.3h0M543.7 304.2h0M529.1 313.7h0M529.1 303.2h0M529.1 307.9h0M529.1 307.6h0M529.1 308.3h0M529.1 318.3h0M542.4 304.8h0M542.4 309.3h0M542.4 306.4h0M552.6 297.5h0M552.6 298.8h0M552.6 299.5h0M510.2 315.1h0M510.2 312.2h0M510.2 315.6h0M510.2 314.6h0M510.2 316.4h0M510.2 311.6h0M555.3 303.1h0M555.3 296.5h0M523.4 308.9h0M523.4 309.8h0M523.4 315.2h0M540.1 300.4h0M540.1 300.2h0M510.4 327.5h0M510.4 318.7h0M510.4 322.6h0M510.4 313.6h0M537.9 300.8h0M537.9 307.4h0M537.9 296.3h0M537.9 307.1h0M491.6 335.6h0M491.6 328.5h0M528.9 300h0M528.9 301h0M528.9 303.8h0M528.9 304.9h0M528.9 299.9h0M528.9 298.3h0M549.5 296h0M549.5 302.2h0M549.5 292h0M549.5 292h0M511.5 322.7h0M511.5 316h0M511.5 311.6h0M511.5 323.2h0M511.5 317h0M511.5 315.9h0M502.3 327h0M502.3 328.7h0M512.5 308.1h0M512.5 306.6h0M512.5 314.2h0M541.5 303.1h0M541.5 308.6h0M541.5 302.4h0M511.9 311.7h0M511.9 303.9h0M511.9 311.4h0M511.9 312.9h0M544.1 303.7h0M544.1 304h0M544.1 306.2h0M544.1 307.2h0M539.7 303h0M539.7 300.2h0M529.1 309.7h0M529.1 307h0M529.1 311h0M544 293.1h0M544 307.7h0M544 303.8h0M458.8 334.4h0M458.8 337.5h0M458.8 345.9h0M490.7 328.3h0M549.8 294.5h0M549.8 300.6h0M549.8 298.6h0M536.6 299.6h0M536.6 300.9h0M536.6 308.9h0M536.6 302.1h0M536.6 302h0M536.6 302.6h0M500.5 323.3h0M500.5 327.6h0M500.5 313.3h0M536.8 310.1h0M536.8 302h0M550.5 292.3h0M550.5 298.5h0M550.5 301.2h0M550.5 305.9h0M550.5 301.9h0M550.5 292.9h0M557.4 297.1h0M552 293.2h0M532 309.7h0M532 306.1h0M532 305.6h0M532 306.6h0M532 307h0M532 311h0M450.2 347.3h0M545.1 300h0M545.1 287.5h0M545.1 290.8h0M545.1 296.3h0M545.1 292.8h0M545.1 296.6h0M533.5 297.7h0M533.5 313.5h0M545 301.4h0M545 312.7h0M545 302.1h0M552.7 298.2h0M552.7 289.1h0M552.7 296.1h0M506.9 324.6h0M506.9 313.4h0M506.9 315.1h0M480.2 336.9h0M480.2 334.9h0M480.2 328.8h0M480.2 324.4h0M542.7 303.1h0M542.7 307.9h0M542.7 306.3h0M542.7 296.6h0M542.7 297.6h0M542.7 304.2h0M550.6 303h0M550.6 305.9h0M550.6 301h0M550.6 306.2h0M550.6 307.2h0M549.8 295.7h0M548.4 310h0M548.4 304.4h0M516.5 307.6h0M540.5 290.1h0M552.2 307.6h0M552.2 295.9h0M549.2 303.6h0M544.8 300.4h0M544.8 298h0M544.8 297.5h0M544.8 296h0M548.6 295.1h0M548.6 298.6h0M491.9 320.6h0M534.5 303.2h0M534.5 306.5h0M534.5 310.1h0M534.5 299.4h0M534.5 318.9h0M501.4 319.5h0M544.2 305.6h0M544.2 299.6h0M544.2 304.3h0M544.2 295h0M544.2 297h0M544.2 290h0M447.7 350.6h0M447.7 347.8h0M447.7 350.8h0M447.7 342.3h0M447.7 350.1h0M447.7 339.6h0M447.7 342.5h0M534.6 303.8h0M534.6 305.7h0M534.6 313.5h0M534.6 305h0M534.6 312.3h0M549.3 294.9h0M556 304.2h0M556 287.6h0M554.1 297h0M554.9 300.7h0M554.9 297h0M554.9 299h0M519.3 313.6h0M543.8 290.7h0M543.8 309.6h0M543.8 302h0M543.8 309.7h0M543.8 309.4h0M494.8 333.9h0M494.6 348h0M494.9 348.9h0M494.2 335.9h0M494.3 339.7h0M494.2 338h0M494.7 318.4h0M494.5 325.2h0M494.9 342.9h0M494.7 339.3h0M494.8 332.5h0M494.5 344.6h0M494.6 322.8h0M494.2 338h0M493.8 326.3h0M493.7 335.5h0M493.8 330h0M493.8 336.6h0M494.3 322h0M494 337.8h0M493.9 331.6h0M493.8 323.6h0M495.1 326.5h0M494.2 338.7h0M496.1 343.9h0M475.8 315.8h0M444.5 368.7h0M464.2 326.9h0M518.4 325h0M499 309.4h0M450.9 368.9h0M479.3 314.4h0M484.4 310.5h0M480.8 355.9h0M533.3 284.2h0M456.1 330.6h0M484.4 309.9h0M483.1 352.4h0M478.1 314.1h0M467.3 357.3h0M448.3 326.6h0M526.2 294.1h0M548.2 317.2h0M444.4 368.3h0M466.6 327.1h0M503.9 305.7h0M530.3 293.4h0M466.9 354.8h0M450.1 361.8h0M447.4 333.9h0M570.4 282.6h0M569.7 291.1h0M573.2 282.5h0M573.2 285.7h0M573.2 286.5h0M579.1 272.4h0M579.1 281.1h0M579.1 295.4h0M579.1 279.1h0M576.9 289.5h0M576.9 287.6h0M576.9 282.5h0M595.3 273.4h0M595.3 266.4h0M608.9 265.2h0M608.9 272.8h0M608.9 274.1h0M594.1 275.2h0M594.1 273.4h0M594.1 282.7h0M594.1 273h0M594.1 278.9h0M617 275.2h0M617 275h0M617 265.6h0M617 274.6h0M571.2 283.1h0M571.2 276.5h0M576.3 293.9h0M576.3 285.6h0M576.3 282.8h0M576.3 287.4h0M635.1 272h0M612.8 272.9h0M612.8 282.8h0M612.8 271.7h0M612.8 270.9h0M574.3 284.4h0M574.3 293h0M603.9 277h0M603.9 276.9h0M603.9 276h0M582 285.9h0M582 288.8h0M582 286.9h0M582 283.7h0M609.3 274.1h0M609.3 275.8h0M609.3 268.2h0M609.3 291.5h0M609.3 280.8h0M583.3 286.5h0M571.3 282.4h0M571.3 284.1h0M571.3 287.8h0M571.3 286h0M586.5 269.5h0M586.5 276.9h0M586.5 284h0M586.5 287.5h0M578.1 292.9h0M578.1 301.4h0M578.1 290.7h0M585.3 287.7h0M585.3 273h0M585.3 280.6h0M592.4 272.1h0M592.4 272.4h0M592.4 283.4h0M586.1 285.2h0M586.1 277.4h0M586.1 281.3h0M586.1 288.4h0M574.7 287.6h0M574.7 289.8h0M574.7 290.2h0M574.7 280h0M615.9 274.7h0M615.9 277.5h0M615.9 274.9h0M615.9 277h0M585.5 283.1h0M585.5 282.2h0M628.7 271h0M582.9 288.5h0M581.2 289.6h0M581.2 282.4h0M581.2 287.6h0M575.1 287.6h0M575.1 284.2h0M575.1 276.8h0M575.1 287.2h0M575.1 277.8h0M601.3 286.4h0M601.3 274.2h0M601.3 272.7h0M584.8 278.8h0M584.8 283h0M584.8 274.7h0M584.8 282.7h0M584.8 288.1h0M573.7 291.9h0M611.6 271.6h0M595 277.3h0M595 270.1h0M595 277.2h0M595 276.3h0M612.1 262.5h0M612.1 268.2h0M612.1 271h0M568 289.1h0M568 287.9h0M568 292.4h0M572.8 282.2h0M572.8 290.5h0M575.1 293.5h0M575.1 292.1h0M575.1 284.9h0M575.1 293.6h0M575.1 287.8h0M579.2 281.2h0M579.2 291.5h0M577.7 291.5h0M577.7 274.7h0M577.8 291.5h0M577.8 291.1h0M577.8 281.7h0M636.6 260.4h0M636.6 255.7h0M575 303.2h0M575 288.9h0M575 272.4h0M572.4 286.1h0M572.4 292.8h0M572.4 299.3h0M572.4 279h0M627.6 270h0M589.6 275.1h0M589.6 285.3h0M589.6 282h0M589.6 287.3h0M589.6 284.2h0M573.5 291h0M573.5 289.9h0M626.1 267.1h0M626.1 256.6h0M613.9 267.3h0M614.8 283.2h0M620.4 271.7h0M620.4 267.7h0M620.4 264.3h0M582.6 280.6h0M582.6 287.3h0M582.6 278.8h0M578.4 281h0M629.5 258.3h0M591.3 278.1h0M603.1 277h0M603.1 282.3h0M603.1 276.8h0M570.2 285h0M576.4 285.3h0M576.4 290.2h0M605 278.8h0M605 280.5h0M605 277.5h0M605 279.5h0M605 276.2h0M609.9 270.6h0M609.9 279.7h0M586.7 275.7h0M586.7 279.8h0M596.3 276.8h0M632.4 263.3h0M577.3 286.4h0M579.2 290.6h0M579.2 283.5h0M579.2 286.3h0M579.2 288.6h0M575 281.4h0M589 277.8h0M589 283.6h0M589 284.6h0M589 278.6h0M616.8 276.2h0M596.9 280.3h0M576.5 291.1h0M576.5 293.9h0M576.5 282.7h0M622.5 259.4h0M622.5 269.6h0M622.5 277h0M576.7 284.9h0M581.3 277.9h0M581.3 268.6h0M581.3 284.5h0M616.9 270.3h0M597.6 273.9h0M597.6 269.6h0M597.6 276.2h0M567.8 293h0M567.8 293.9h0M567.8 290.5h0M590.5 278.4h0M590.5 275.7h0M590.5 288.7h0M590.5 279.7h0M590.5 281.7h0M583.6 287.5h0M583.6 282.2h0M583.6 273.8h0M583.6 284.3h0M583.6 277.8h0M582.6 287h0M582.6 282.4h0M582.6 285h0M582.6 291h0M619.9 264.8h0M582.4 291.2h0M582.4 282h0M582.4 289.1h0M581.6 285h0M587.7 283.8h0M587.7 291h0M571.9 285.5h0M571.9 295h0M571.9 299.7h0M620.1 276.4h0M620.1 270.8h0M620.1 275.5h0M587.6 286.3h0M587.6 285h0M587.6 283.1h0M587.6 281.3h0M587.6 276.3h0M620.5 260.9h0M620.5 264.1h0M620.5 271.1h0M629.7 269.7h0M629.7 274.9h0M629.7 263.1h0M629.7 264.1h0M607.4 275.2h0M607.4 274.4h0M581.8 290.6h0M581.8 275h0M581.8 283h0M625.2 266.3h0M625.2 265.5h0M630.8 259.8h0M630.8 266.7h0M621.9 271.6h0M621.9 268.8h0M594.1 282.5h0M594.1 283.7h0M594.1 288.1h0M580.7 286.5h0M580.7 294.5h0M580.7 282.1h0M580.7 281.3h0M580.7 288.1h0M577.7 279.7h0M577.7 279.6h0M578.6 284.2h0M578.6 293h0M574.6 290.3h0M574.6 284.5h0M601.8 264.9h0M601.8 282.4h0M601.8 273h0M601.8 271.4h0M573.7 291.3h0M573.7 288.9h0M572.8 283.6h0M572.8 283.3h0M580.9 283.1h0M580.9 291.2h0M580.9 283.5h0M580.9 292.4h0M575.8 281.4h0M575.8 291.4h0M575.8 280.9h0M599.3 292.3h0M599.3 285.5h0M599.3 274.3h0M581.5 273.1h0M581.5 280.4h0M607.4 263.2h0M607.4 277.5h0M607.4 269.1h0M607.4 272.6h0M607.4 269.7h0M574.5 282.1h0M574.5 282h0M574.5 287.9h0M574.5 282.5h0M574.5 281h0M585.6 276.7h0M575.2 286.8h0M575.2 283.4h0M575.2 282.9h0M575.2 288h0M575.6 286.7h0M572.9 285.7h0M572.9 279.9h0M574.8 294.2h0M585.2 275.9h0M578.8 282.5h0M578.8 281.1h0M578.8 283.2h0M578.8 279.7h0M578.8 285.3h0M577.8 293.1h0M577.8 284.1h0M577.8 285h0M578.4 275.2h0M578.4 277.5h0M578.4 279.5h0M578.4 280.4h0M604 280.5h0M604 278.4h0M577.8 292.1h0M577.8 294.1h0M619.2 275.1h0M619.2 275.2h0M619.2 274h0M619.2 275.8h0M617.2 270.9h0M617.2 267.2h0M617.2 267.3h0M617.2 268.2h0M617.2 258.3h0M625 268.5h0M625 269.4h0M575.7 272.9h0M575.7 280.3h0M575.7 280.2h0M575.7 287.9h0M575.7 271.6h0M630 262.7h0M630 266.3h0M569.6 290.7h0M575.7 282.7h0M572.2 285.6h0M572.2 291.6h0M572.2 283.7h0M572.2 288.2h0M619.2 270.1h0M619.2 267.6h0M613.3 268.1h0M613.3 267.7h0M613.3 268.5h0M635.3 264.9h0M635.4 266.8h0M635.4 259.6h0M589.7 277.7h0M589.5 280.3h0M577 293.4h0M574 295.3h0M574 287.2h0M574 288.9h0M574.7 292.8h0M574.7 284.5h0M574.7 282.1h0M594.8 269.6h0M573.8 294h0M573.8 291.7h0M573.8 286.3h0M573.8 286.8h0M573.8 290h0M576.6 282.1h0M576.6 283.4h0M576.6 287h0M576.6 281.2h0M576.6 278.4h0M596.2 285.9h0M596.2 278h0M596.2 285.2h0M616.7 267.7h0M579.7 291.1h0M580.2 280h0M580.2 278.5h0M580.2 294.1h0M588.8 286.5h0M582.8 274h0M582.8 280.6h0M582.8 291.1h0M583 276.5h0M571.6 284.9h0M571.6 288.5h0M571.6 291.4h0M571.6 286h0M595.3 277.1h0M595.3 284.1h0M595.3 281.8h0M569.1 292.7h0M569.1 284.1h0M611 275.2h0M611 273.8h0M611 271.7h0M616.2 271.8h0M571 294.5h0M571 290.8h0M571 291.1h0M572 282h0M572 288.9h0M572 283.5h0M601.4 265.5h0M601.4 262.8h0M573.6 285.7h0M616.5 273h0M616.5 273.3h0M616.5 282.1h0M593.4 284.5h0M580.3 286.5h0M580.3 286h0M580.3 278.6h0M580.3 269.5h0M580.3 278.2h0M603 277h0M603 285.5h0M603 275.5h0M603 280.3h0M576.6 285h0M576.6 288.9h0M632.8 266.4h0M632.8 260.6h0M609.7 269.7h0M609.7 272.5h0M609.7 285.4h0M607.9 272.2h0M619.7 273.8h0M619.7 272.7h0M619.7 278.6h0M619.7 277.9h0M619.7 268.2h0M568.1 302.6h0M568.1 302.6h0M568.1 300.3h0M620.6 266.3h0M620.6 276.8h0M620.6 274.1h0M620.6 278.9h0M620.6 270.7h0M575.1 287.9h0M576.5 281.8h0M570.1 290.9h0M570.1 289h0M579 286.3h0M579 290h0M579 283.1h0M579 284.3h0M575.7 274.7h0M575.7 286.2h0M575.7 277.8h0M575 291.5h0M575 293.2h0M575 294.3h0M575 304.2h0M631.8 267.3h0M631.8 270.5h0M575.1 280.3h0M575.1 283.6h0M575.1 281.9h0M571.4 293.9h0M571.4 284.7h0M582.1 287.5h0M582.1 280.1h0M580.2 286.6h0M598.5 276.3h0M614.2 269.4h0M614.2 278.1h0M614.2 277.2h0M614.2 271.9h0M614.2 273.5h0M597.8 279.9h0M597.8 286.5h0M597.8 282.7h0M576.9 277.1h0M576.9 288.5h0M576.9 283h0M573.3 284.5h0M631.8 262.1h0M631.8 263.8h0M631.8 258.1h0M631.8 262.8h0M631.8 274.5h0M573.8 281.1h0M573.8 290.1h0M580.2 279.2h0M580.2 292.6h0M580.2 279.6h0M580.2 291.1h0M580.8 284.6h0M587.6 280.7h0M587.6 277.7h0M634.9 265.6h0M634.9 273.1h0M574.8 271.1h0M633.8 263.2h0M611 273.7h0M571.5 289h0M571.5 285.4h0M571.5 295.2h0M579.4 295.2h0M579.4 289h0M579.4 279.4h0M579.4 289.7h0M573.2 289.4h0M573.2 280.1h0M573.2 286.8h0M573.2 292.2h0M573.2 277.6h0M570.3 290.2h0M570.3 283.5h0M570.3 287h0M570.3 288.6h0M570.3 299.1h0M568.1 290.5h0M568.1 285.7h0M592.6 282h0M581.6 288.2h0M581.6 286.2h0M579 295.8h0M579 298.6h0M615.9 272.6h0M615.9 267.9h0M577.7 284.1h0M577.7 293.3h0M577.7 279.2h0M577.7 275h0M577.7 285.4h0M635.1 259h0M635.1 254.3h0M635.1 266.2h0M581.1 277.1h0M605.9 285.8h0M605.9 281h0M585.5 278.5h0M585.5 289.2h0M585.5 282.6h0M585.5 284.9h0M581.9 273.7h0M617 279.3h0M617 278.3h0M579.4 287.1h0M619.2 267.9h0M576.8 288.9h0M576.8 284.6h0M571.3 287h0M571.3 291.3h0M571.3 289.6h0M571.3 296.6h0M600.1 281.1h0M600.1 277.3h0M600.1 281.2h0M579.5 282.7h0M579.5 291.3h0M581.7 293.6h0M581.7 288.1h0M581.7 286.6h0M573.1 288.9h0M573.1 281.2h0M581.3 289.5h0M581.3 287.2h0M608.8 267.3h0M608.8 274.9h0M608.8 255.9h0M572.7 291.8h0M572.7 286.3h0M600.6 279.2h0M573.8 293.9h0M591.4 287.2h0M572.9 291.5h0M592.3 280h0M582.6 283.3h0M582.6 279.9h0M582.6 286.8h0M582.6 280.7h0M582.6 284.6h0M591.1 286h0M591.1 285.5h0M591.1 280.5h0M577.2 289.7h0M577.2 285.5h0M578.9 290.5h0M578.9 286.1h0M578.9 286.4h0M583.5 288.5h0M583.5 283.4h0M607.9 271.1h0M607.9 273.5h0M607.9 279.3h0M625.2 276.2h0M625.2 265.9h0M569.4 279.6h0M569.4 284h0M616.4 254.2h0M616.4 268.2h0M616.4 263.9h0M616.4 271.9h0M616.4 272.6h0M575.8 290.5h0M575.8 279.4h0M575.8 299.8h0M575.8 298.2h0M575.8 288.2h0M577.1 279.2h0M577.1 288.1h0M579.5 285.3h0M578.4 279.5h0M578.4 291.4h0M578.4 281.7h0M578.4 286.1h0M578.4 277.8h0M585.7 267.7h0M585.7 286.7h0M583.4 300.8h0M583.4 283.9h0M583.4 289.9h0M583.4 288.8h0M597.4 276.9h0M597.4 287.5h0M597.4 281.9h0M597.4 292.9h0M594.8 279.8h0M600 274.4h0M577.8 294.7h0M577.8 283.9h0M578 296.3h0M578 291.8h0M578.1 291.9h0M572.6 287.3h0M572.6 279.3h0M572.6 283h0M572.6 284.1h0M572.6 283.9h0M598.6 275.2h0M598.6 292.7h0M598.6 284.1h0M578.7 278.4h0M578.7 269.6h0M633.5 259h0M574.2 283h0M574.2 283.8h0M574.2 293.3h0M574.2 287.3h0M574.2 279.9h0M584.4 286.7h0M584.4 282.3h0M584.4 285.2h0M584.4 278.4h0M579.8 277.8h0M579.8 282.6h0M579.8 275.3h0M599.5 284.8h0M582 285.7h0M582 288.2h0M582 288.9h0M585 282.2h0M605.3 276.7h0M605.3 278.1h0M605.3 280.1h0M607.7 274.3h0M607.7 272.7h0M607.7 275.9h0M592.1 275.9h0M592.1 277.9h0M592.1 290.5h0M592.1 285.3h0M592.1 288.3h0M596 276.6h0M596 275.4h0M596 276.8h0M584.8 287.5h0M586.2 291.9h0M586.2 282.9h0M586.2 287.5h0M586.2 286.3h0M586.2 281.6h0M579 291.6h0M579 282.5h0M579 291.4h0M579 287.3h0M579 293h0M588.7 274.9h0M608 279.8h0M608 279.1h0M581.5 289.6h0M581.5 290.9h0M582.9 284.9h0M582.9 278.8h0M577.2 294.9h0M620 277h0M620 272h0M620 267.7h0M620 271.7h0M620 267.4h0M604.4 273.5h0M604.4 286.7h0M604.4 271.9h0M589.7 284.9h0M588.7 281.2h0M607.1 277.1h0M607.1 270.4h0M584.1 293.6h0M584.1 282.4h0M627.9 268.7h0M627.9 263.1h0M627.9 266.5h0M627.9 263.4h0M593.9 281.4h0M593.9 282.1h0M593.9 275.1h0M584.7 279.9h0M584.7 289.3h0M577.9 280.9h0M577.9 290.3h0M577.9 278.4h0M577.9 280.8h0M577.9 277.8h0M605.2 277.5h0M605.2 278.2h0M605.2 271.6h0M605.2 281.7h0M612.5 271.8h0M612.5 281.8h0M583.9 279.3h0M583.9 284h0M572.5 287.9h0M572.9 277.4h0M572.9 289.1h0M618.3 269.7h0M618.3 268.8h0M618.3 271.2h0M618.3 276.8h0M618.3 266.8h0M584.5 283.8h0M593.6 271.4h0M581 292h0M581 287.7h0M581 281.5h0M581 285.1h0M570.5 286.7h0M615.7 279.9h0M573.8 290.1h0M573.8 286.9h0M573.8 283.1h0M573.8 288.4h0M596.7 279.1h0M582.4 276.3h0M582.4 291.6h0M569.5 296.4h0M577.2 284.4h0M577.2 288.6h0M599.7 283.6h0M599.7 286.1h0M599.7 284.8h0M599.7 277.7h0M582.5 274h0M603.3 278.1h0M603.3 267h0M603.3 280.3h0M567.8 291.2h0M600.8 287.1h0M577.3 277.4h0M577.3 280.2h0M577.3 294.2h0M577.3 284.2h0M606.2 276.2h0M606.2 275.5h0M578.1 282.7h0M578.1 290.8h0M578.1 276.6h0M584.5 284.8h0M630.1 263.5h0M630.1 272.4h0M594.4 279.6h0M578.7 286.4h0M578.7 278.3h0M578.7 286.9h0M578.7 273.8h0M603.3 279.9h0M603.3 277h0M618.3 266.1h0M618.3 268.4h0M581.7 283h0M581.7 269.9h0M577.7 292h0M613.4 271.7h0M613.4 263.6h0M613.4 266.4h0M573 277.1h0M573 290.9h0M573 290.7h0M576 291.7h0M582.7 275h0M582.7 280.6h0M603.3 274.7h0M603.3 277.8h0M603.3 283.6h0M603.3 266h0M603.3 274.9h0M614 268.7h0M614 267h0M614 268.3h0M586.4 296h0M586.4 281.8h0M586.4 287.1h0M586.4 280.2h0M586.4 287.6h0M591.6 289.4h0M591.6 281.4h0M591.6 277.5h0M577.8 284.8h0M577.8 281.8h0M573.5 284.1h0M573.5 282.5h0M573.5 279.9h0M635.1 266h0M635.1 265.3h0M586.6 283.1h0M586.6 283.4h0M573.4 289.5h0M572 291.2h0M572 305.5h0M618.7 270h0M618.7 260.8h0M618.7 267.5h0M618.7 262.7h0M615.1 276h0M615.1 272h0M615.1 263.8h0M572.9 301.7h0M607.4 271.9h0M607.4 273.4h0M607.4 275h0M607.4 272.7h0M607.4 279h0M594.5 282.3h0M594.5 274.4h0M594.5 290.3h0M594.5 281.5h0M592.2 273.5h0M592.2 275.4h0M592.2 285.4h0M572.7 282.7h0M572.7 285.4h0M572.7 299.6h0M608.4 280.2h0M608.4 278.5h0M576.6 285.5h0M578 278h0M578 289.5h0M578 287.7h0M578 286.7h0M602.8 274.4h0M602.8 277.2h0M602.8 279.7h0M602.8 273h0M602.8 268.6h0M577.7 287.6h0M576.6 297.5h0M576.6 288h0M590 284.5h0M590 277.7h0M590 275.8h0M590 281.3h0M590 281.4h0M619.4 269.3h0M619.4 263.9h0M619.4 260.4h0M619.4 278.7h0M581.3 280.3h0M581.3 283.7h0M579.4 289.1h0M579.4 279.9h0M580.6 289.5h0M580.6 287.2h0M580.6 285.7h0M580.2 285.5h0M577.6 291.7h0M584.9 282.3h0M584.9 281.8h0M601.3 278.9h0M601.3 273.2h0M601.3 279.5h0M601.3 274.6h0M601.3 284h0M584.1 290.8h0M584.1 285.7h0M584.1 279.8h0M578.1 296.5h0M612 285.9h0M582 292.3h0M582 290.7h0M582 286.4h0M582 294.2h0M582 289.7h0M610.4 271.2h0M606.4 268.1h0M606.4 281.8h0M606.4 275.2h0M606.4 283.7h0M606.4 279.6h0M596.7 274.5h0M596.7 282.6h0M596.7 269.9h0M615.2 271.2h0M580.4 295.2h0M580.4 287h0M629.1 263.5h0M569.4 289.6h0M569.4 284.1h0M569.4 280.7h0M569.4 293.7h0M569.4 286.1h0M613.3 276.7h0M613.3 260.2h0M613.3 274.4h0M602.7 266h0M595.7 272.2h0M586.2 282.9h0M617.3 286.5h0M617.3 273.3h0M571.1 300.4h0M571.1 291.8h0M579.3 280.6h0M579.3 282.5h0M617.3 266.9h0M572.8 286.5h0M609.4 278.3h0M609.4 274.3h0M616.3 264.9h0M616.3 268.4h0M571.1 282.5h0M571.1 286.8h0M571.8 291.7h0M571.8 290.1h0M612.7 270.5h0M579.1 280h0M581.9 281h0M581.9 283.1h0M581.9 276.9h0M581.9 287.7h0M577 287.5h0M577 287.2h0M577 282.5h0M577 274.5h0M577 281.9h0M583.6 285.9h0M583.6 281.4h0M573.2 284.7h0M573.2 285.9h0M573.2 282.3h0M573.2 281.6h0M617.4 267.3h0M617.4 273.8h0M572.9 286.8h0M577.1 280.8h0M580 282.5h0M580 284h0M580 287.6h0M580 288.9h0M596.4 278.5h0M596.4 283h0M596.4 264.6h0M598.6 280.9h0M572.9 285.9h0M572.9 286.6h0M589.2 282.6h0M589.2 277.6h0M589.2 283.4h0M607.6 264h0M607.6 270.2h0M607.6 270.4h0M607.6 273.1h0M607.6 272.7h0M630.7 272.5h0M604.4 260.9h0M604.4 270.4h0M604.4 282h0M604.4 267.2h0M604.4 274.8h0M628.3 270.1h0M628.3 264.1h0M628.3 271.3h0M628.3 260.4h0M585.7 288.5h0M585.7 286.3h0M585.7 281h0M588.8 291.9h0M588.8 286h0M588.8 279.8h0M602.7 275h0M602.7 290.1h0M602.7 271.4h0M598.4 272.9h0M585 272.9h0M585 284.5h0M585 277.8h0M585 278h0M585 288.4h0M571.3 283.4h0M571.3 280.2h0M571.3 286.9h0M571.3 279.3h0M571.3 284.9h0M633.5 273.3h0M633.5 281h0M633.5 267.8h0M571.6 289.4h0M571.6 283.8h0M579.3 284h0M579.3 277.5h0M579.3 277.3h0M571 294.3h0M571 295.7h0M571 290.5h0M615.7 273.2h0M615.7 274.9h0M606.6 276.2h0M629.5 270.2h0M629.5 259.8h0M577.1 296.6h0M592.7 267.5h0M573.5 271.4h0M622.1 282.3h0M626.4 277.8h0M622 254h0M614.4 258.5h0M612.3 261.5h0M592.6 295.8h0M607.1 259.6h0M621 279.6h0M604.9 263.7h0M585.8 273.1h0M582.9 294.4h0M580.2 298.5h0M609.5 284.4h0M339.7 397.2h0M339.7 407.2h0M361.2 392.2h0M373.3 401.4h0M375.4 377.2h0M380.7 378.8h0M380.7 349.1h0M380.7 388.8h0M380.7 391.2h0M380.7 393.8h0M380.7 396.9h0M389.4 385.4h0M395.4 364.9h0M401.4 363h0M407.8 366.7h0M403.3 375.4h0M418.5 353.6h0M426.7 345.2h0M428 355.2h0M433 358.8h0M424.8 366.7h0M429.6 366.5h0M429.6 369.1h0M424.6 372.2h0M437.4 346.5h0M439.5 345.2h0M442.4 360.9h0M443.5 364.1h0M455.3 363.6h0M456.4 357.8h0M665.4 240.3h0M654.7 244.8h0M665.4 254.2h0M660.9 267.3h0M649.6 263.8h0M649.6 265.9h0M649.6 267.9h0M649.6 269.6h0M642.7 254.6h0M642.7 258.7h0M624.9 251.8h0M619.2 256.1h0M613.5 257.7h0M573.6 257.7h0M577.1 259.1h0M555.8 263.2h0M624.3 302.7h0M622.3 304.9h0M586.5 316.4h0M548.5 319h0M636.4 284.9h0M631 285.5h0M578.6 328.2h0M586.4 316.3h0M623.2 304.1h0M582 303.8h0M589 339.5h0M573.6 361.8h0M444.2 270.5h0M392.6 311h0M392.6 317.3h0M392.6 318.9h0M392.6 320.5h0M392.6 322.1h0M392.6 327.6h0" stroke="#000" stroke-width="2.9" stroke-linecap="round" fill="none"/>
<path d="M567.5 290.2h0M567.6 294.1h0M567.6 303.1h0M565.4 297.6h0M559.2 292.2h0M569.2 287.7h0M562.9 295.5h0M566 292.7h0M560.7 295h0M564.5 301.3h0M559.9 302.5h0M568.9 288.4h0M562.7 288.7h0M557.9 292.8h0M565 291.9h0M562.3 298.8h0M566.4 298.4h0M563.7 300.9h0M571.2 282.4h0M559 284.1h0M562.1 315.1h0M558.1 288h0M560.4 298.4h0M567.6 286.9h0M566.2 290.9h0M563.2 296.9h0M561.8 290.4h0M564.4 293.4h0M564.6 284.6h0M560.8 299.6h0M561 295.4h0M567.3 292.9h0M560.8 301h0M557.2 295.8h0M567.5 301h0M565.1 296.7h0M566.1 293.9h0M561.9 283.7h0M569.1 288.7h0M561.4 293.1h0M567.1 295.2h0M563.7 294.5h0M560.8 303.8h0M562.7 292.7h0M560 298.8h0M561.4 298.6h0M567.7 290.6h0M560.6 303.2h0M561.3 300.3h0M568.1 294.7h0M566.2 295.2h0M561.1 299h0M563.7 288.3h0M567.6 292.9h0M566.9 287.9h0M563.2 301.2h0M563.1 293.8h0M561.8 296.8h0M563.4 303.6h0M558.8 299.6h0M565.6 294.2h0M556.3 297.7h0M564.6 293h0M568.8 285.3h0M565.1 300.8h0M565.6 287.4h0M562.7 303h0M566 291.3h0M562 293.1h0M562.5 292.4h0M562.8 292.8h0M565.3 295h0M565.4 295.3h0M561.5 303.1h0M560.6 300.7h0M569.1 295.8h0M560.9 291.7h0M565.1 296.6h0M563.3 300.6h0M563.2 294.6h0M566.6 295.6h0M568 285.4h0M563.5 291.7h0M558.6 300.6h0M562.1 294.9h0M562 295.2h0M561.5 299.9h0M569.1 284.2h0M563 304.2h0M561.2 295.7h0M565.5 285.7h0M569.7 289.3h0" stroke="#bebebe" stroke-width="2.9" stroke-linecap="round" fill="none"/>
<line x1="323.5" y1="295.4" x2="681.7" y2="295.4" stroke="#000" stroke-width="1.0" stroke-dasharray="2.7 2.3"/>
<line x1="563.5" y1="233" x2="563.5" y2="415.4" stroke="#000" stroke-width="1.0" stroke-dasharray="2.7 2.3"/>
<text x="371.4" y="306" font-size="5.2">AKR1C4</text>
<text x="369.3" y="315.2" font-size="5.2">AKR1C4</text>
<text x="395.8" y="313.6" font-size="5.2">AKR1C4</text>
<text x="369.3" y="322.9" font-size="5.2">AKR1C4</text>
<text x="411.5" y="321.8" font-size="5.2">AKR1C4</text>
<text x="356.1" y="330.9" font-size="5.2">AKR1C4</text>
<text x="395.8" y="330" font-size="5.2">AKR1C4</text>
<text x="420.7" y="330" font-size="5.2">AKR1C4</text>
<text x="380.8" y="338.1" font-size="5.2">AKR1C4</text>
<text x="427" y="277.3" font-size="5.2">DHRS1</text>
<text x="583.9" y="336.7" font-size="5.2">RALGAPA2</text>
<text x="575.8" y="359.7" font-size="5.2">RTN4</text>
<line x1="392.6" y1="305.3" x2="392.6" y2="310.1" stroke="#000" stroke-width="0.65"/>
<line x1="393.4" y1="319.7" x2="411" y2="319.7" stroke="#000" stroke-width="0.65"/>
<line x1="393.4" y1="322.1" x2="419.9" y2="328.1" stroke="#000" stroke-width="0.65"/>
<line x1="376.5" y1="329" x2="392.1" y2="327.4" stroke="#000" stroke-width="0.65"/>
<line x1="392.1" y1="328.5" x2="391" y2="333" stroke="#000" stroke-width="0.65"/>
<text x="11.9" y="443.7" font-size="10.8" font-weight="bold">e</text>
<line x1="28.2" y1="450.4" x2="28.2" y2="634.2" stroke="#303030" stroke-width="1.0"/>
<line x1="27.7" y1="634.2" x2="390.5" y2="634.2" stroke="#303030" stroke-width="1.0"/>
<line x1="26.4" y1="467.6" x2="28.2" y2="467.6" stroke="#000" stroke-width="0.6"/>
<text x="25.4" y="469.9" font-size="6.4" text-anchor="end">1</text>
<line x1="26.4" y1="525.2" x2="28.2" y2="525.2" stroke="#000" stroke-width="0.6"/>
<text x="25.4" y="527.5" font-size="6.4" text-anchor="end">0</text>
<line x1="26.4" y1="582.8" x2="28.2" y2="582.8" stroke="#000" stroke-width="0.6"/>
<text x="25.4" y="585.1" font-size="6.4" text-anchor="end">−1</text>
<line x1="44.4" y1="634.2" x2="44.4" y2="636" stroke="#000" stroke-width="0.6"/>
<text x="44.4" y="641.4" font-size="6.5" text-anchor="middle">−2</text>
<line x1="149.5" y1="634.2" x2="149.5" y2="636" stroke="#000" stroke-width="0.6"/>
<text x="149.5" y="641.4" font-size="6.5" text-anchor="middle">−1</text>
<line x1="254.6" y1="634.2" x2="254.6" y2="636" stroke="#000" stroke-width="0.6"/>
<text x="254.6" y="641.4" font-size="6.5" text-anchor="middle">0</text>
<line x1="359.7" y1="634.2" x2="359.7" y2="636" stroke="#000" stroke-width="0.6"/>
<text x="359.7" y="641.4" font-size="6.5" text-anchor="middle">1</text>
<text transform="translate(16.7 531.5) rotate(-90)" font-size="8.2" text-anchor="middle">logFC semi−tryptic peptides</text>
<text x="217" y="648.8" font-size="8.2" text-anchor="middle">logFC protein level</text>
<path d="M37.5 521.1L37.5 447.8M41.05 451.74L37.5 447.8L33.95 451.74" fill="none" stroke="#ffa500" stroke-width="1.6" stroke-linecap="round" stroke-linejoin="round"/>
<path d="M37.5 531.2L37.5 611.6M33.95 607.66L37.5 611.6L41.05 607.66" fill="none" stroke="#0000ff" stroke-width="1.6" stroke-linecap="round" stroke-linejoin="round"/>
<path d="M250.8 621.6L169.4 621.6M173.34 618.05L169.4 621.6L173.34 625.15" fill="none" stroke="#0000ff" stroke-width="1.6" stroke-linecap="round" stroke-linejoin="round"/>
<path d="M259.2 621.6L340.6 621.6M336.66 625.15L340.6 621.6L336.66 618.05" fill="none" stroke="#ffa500" stroke-width="1.6" stroke-linecap="round" stroke-linejoin="round"/>
<text transform="translate(47.9 485.8) rotate(-90)" font-size="8.15" text-anchor="middle">proliferation cluster</text>
<text transform="translate(47.9 571.9) rotate(-90)" font-size="8.15" text-anchor="middle">ECM cluster</text>
<text x="209.8" y="632" font-size="8.2" text-anchor="middle">ECM cluster</text>
<text x="299.7" y="632" font-size="8.2" text-anchor="middle">proliferation cluster</text>
<path d="M246.2 494.5h0M234.8 503.1h0M265.7 508.7h0M253.1 512.3h0M239.3 527.1h0M229.2 528.7h0M255 539h0M246.7 513.5h0M248.5 513h0M277.9 497.9h0M255.1 521.7h0M276.4 496.2h0M226.3 530.7h0M270.8 528.7h0M222.5 510.1h0M246 525.9h0M253.7 518.4h0M249.8 532.5h0M246.5 528.6h0M250.2 505.8h0M248.1 531h0M251.8 516.1h0M238.6 504.1h0M274.9 502.1h0M253.5 515.5h0M276 524.6h0M265.4 524.7h0M245.8 529.6h0M223.3 534h0M273 513h0M285.3 498.5h0M262.6 514.3h0M216.9 525.4h0M235.9 525.2h0M248.5 525.4h0M257.5 515.4h0M252.8 518.8h0M265.9 505.1h0M242.5 527.8h0M236.3 530.9h0M282.8 502.8h0M266.5 508.6h0M231.9 503.2h0M225 521.2h0M264.4 514.9h0M250.3 529.5h0M276.7 498.4h0M263.5 506.1h0M237.9 527.7h0M244.1 525.6h0M229.9 555.9h0M236.1 527.8h0M260.9 514.7h0M244.1 499.7h0M244.2 504.7h0M228.9 516.6h0M240.9 537.8h0M243.5 505.2h0M252.2 542.5h0M232.2 518.5h0M256.9 529.7h0M225.8 540h0M226.1 518.8h0M236.9 506h0M241.3 541.7h0M257.8 499.5h0M230.9 529.9h0M271.4 521h0M261.6 504.5h0M244.6 514.7h0M245.6 506.3h0M236.6 517.2h0M227.7 520.1h0M257.8 513.3h0M232.6 536.2h0M245 518.9h0M239.7 526.7h0M257.1 514.7h0M251.7 519.4h0M236.6 529.9h0M229.9 522.5h0M263.5 508.1h0M251.8 527.9h0M275.8 513.3h0M242.6 519.8h0M235.2 525.5h0M211.1 531.9h0M249.7 503h0M245.8 525.4h0M230 523.9h0M235.6 521.5h0M249.3 517.9h0M267.6 514.2h0M220.2 521.9h0M242.3 531.8h0M255.2 523.4h0M276.6 492.5h0M237.6 521.8h0M264.8 505.6h0M264.8 505.8h0M251.3 529.4h0M268.5 515.4h0M244.4 501h0M267 506.7h0M256.5 539.3h0M251.2 523.5h0M260.5 509.6h0M232.6 522.2h0M246 515h0M245.2 511.6h0M235.4 526.2h0M237 529.5h0M241.2 509h0M260.5 512.2h0M258.2 502.6h0M274.4 502h0M235.4 534.8h0M219.3 542.8h0M241.9 531.1h0M251.8 510.5h0M277.8 506.4h0M238.5 514.7h0M252.5 535.2h0M232.2 532.6h0M236.4 527.8h0M265.6 518.9h0M262.2 529.8h0M246.8 503.9h0M272.8 504.2h0M246 517.2h0M251.3 510.2h0M217.1 519.3h0M252.2 540.6h0M266.5 518.5h0M243.4 526h0M263.1 515.3h0M254.2 516.5h0M224.2 527.9h0M239.7 529.3h0M232 523h0M259.8 506.6h0M266.9 518.7h0M217.4 540.4h0M227.9 528.4h0M257.3 531.4h0M241.1 523.5h0M255.5 524.7h0M236.6 511.3h0M271.2 511.1h0M256.7 516.1h0M256.3 504.2h0M246.3 538.5h0M273 504.5h0M267.1 500.4h0M252.8 521.3h0M268.3 501.7h0M236 520.4h0M255 524.3h0M235.8 521.1h0M252.2 501.9h0M248.7 507.3h0M254 503.9h0M242.7 511.7h0M252.8 517.4h0M251.6 519.7h0M248.9 518.3h0M221.8 542.5h0M234.1 521h0M256.3 518.7h0M242.9 530.8h0M252.8 511.3h0M258.9 519.3h0M256.7 525.9h0M283.1 499.1h0M233.4 514h0M217.6 546h0M270 514.8h0M244.7 514.9h0M251.1 519.4h0M251.9 521h0M244.4 529.2h0M238.5 527.9h0M238 508.5h0M221.9 514.3h0M235.3 518.8h0M250.5 517.2h0M246.2 522.3h0M203.2 541.3h0M235.3 527.1h0M258.6 503.8h0M252.6 514.4h0M250.9 520.8h0M254 526.5h0M249.1 521.9h0M289.2 496.6h0M238.5 534.1h0M262 514.1h0M267 514.4h0M252.2 510h0M267.3 506.8h0M231.2 532.6h0M232.5 505.7h0M249 530.1h0M250.3 510.4h0M274.7 510.2h0M250 508.9h0M254.6 517.8h0M235.3 534.8h0M251.1 521.1h0M246 517.3h0M246.2 524.2h0M240.4 529.4h0M242.4 508.8h0M243.1 507.9h0M228.1 541h0M218.1 517.4h0M255.9 534.1h0M245.4 525.2h0M258.2 514.6h0M249.8 522h0M243.7 507.9h0M253.8 515.7h0M260.9 488.5h0M238.6 520.7h0M239.1 530.3h0M221 528h0M245.7 515.9h0M239.8 523.8h0M268.8 496.6h0M261.3 516.3h0M259.5 504.5h0M240.1 498.5h0M209.4 541h0M242.1 520.5h0M290.9 498.4h0M268.7 507.4h0M221.1 541.3h0M250.9 524.6h0M234.7 524.7h0M245.1 512.9h0M274.9 497.4h0M254.5 501.8h0M244.3 525.5h0M258.2 513.5h0M272.3 512.2h0M254.6 510.1h0M227.6 513.3h0M224 522.3h0M248.1 520.3h0M259.5 521.2h0M248.8 521.1h0M248.6 529.1h0M225.6 554.5h0M250.7 493.7h0M234.1 513.5h0M242.1 535h0M235.7 515.6h0M249.9 522.3h0M223.6 527.5h0M241.8 514.2h0M257.4 508.5h0M241.4 507.1h0M275.1 493.2h0M229.2 512.8h0M259.7 524h0M254.9 509.1h0M265.5 504.4h0M244.3 526.4h0M222.1 517.9h0M261.6 501.1h0M235.9 514.6h0M240.9 513.6h0M254 509.8h0M219.2 523.2h0M265.6 520.5h0M246.2 512.5h0M253.4 494.9h0M241.4 512.3h0M236.4 533.8h0M252.5 531.2h0M257.2 511.1h0M256.4 514.2h0M255.9 520.3h0M227.7 524.7h0M232.5 513.4h0M255.4 489.3h0M247 540h0M219.4 519.3h0M252.6 505.1h0M258.6 516h0M254.4 518.7h0M273.5 512.6h0M236.9 506.4h0M248.4 502h0M213.2 523.6h0M255.8 516.8h0M259.3 514.1h0M231.1 514.5h0M264.2 513.3h0M234.3 526.1h0M239.6 537.5h0M213 545.3h0M253.5 513.8h0M249.6 523.5h0M236.5 528.9h0M234.5 503.7h0M227.1 534.4h0M246.7 505.8h0M250 527.6h0M264.8 510.8h0M258.6 528.4h0M261 513.8h0M266 504.9h0M232.2 547.9h0M262.9 514.3h0M245.3 510.5h0M260.2 511.3h0M236.9 530.1h0M270.8 532.9h0M236.1 532.3h0M261.1 514.5h0M244.2 521.8h0M235.6 540.5h0M234.4 535.1h0M245.4 518.8h0M274.4 503.1h0M230 544.2h0M224.6 565.3h0M238.8 501.9h0M271.3 518.3h0M258.8 511.2h0M241.1 528.5h0M238.4 527.9h0M261.8 520.2h0M263.8 512.8h0M265.9 492.1h0M254 489.5h0M241.1 520.7h0M263.8 533.3h0M260.2 521.4h0M255.5 532.7h0M238.5 540.1h0M269.5 500.9h0M256.2 516.2h0M236.4 519h0M210 532.2h0M257 527.4h0M254.3 528.9h0M227.9 535.8h0M273.8 501.6h0M237.4 533.4h0M266.9 510.2h0M263.9 510.4h0M248.3 521h0M220.7 517.6h0M241.8 533.8h0M229 506.9h0M249.3 524.7h0M253.3 513.5h0M229.8 538.2h0M257.6 507.9h0M220.5 532.3h0M261.4 517.6h0M258.8 523.4h0M255.5 515.6h0M247.2 525.1h0M254.3 534.3h0M244.2 513.1h0M251.9 502.5h0M253.5 524.1h0M255.8 505h0M254.1 510.6h0M240.9 509.8h0M253.3 515.6h0M250.8 505.3h0M241.6 520.9h0M238.2 510.9h0M238.9 520.6h0M272 508.6h0M254.5 516.8h0M231 535.5h0M270.7 509.7h0M250.7 512.5h0M245.1 512.5h0M243.4 508.9h0M258.5 504.3h0M257.7 518.8h0M252.9 520.4h0M247.3 523.4h0M234.8 535.9h0M264.4 517.5h0M237.7 515.3h0M215.7 531.4h0M231.7 531.5h0M259.6 502.4h0M236.5 517.5h0M249.6 523.3h0M253.3 526.1h0M254.9 508.6h0M255.1 512.6h0M245.8 510.6h0M269.6 513.3h0M289.6 498.6h0M239 536.4h0M243.1 514.1h0M254.4 517h0M240.6 513.2h0M251.1 514h0M269.2 496.9h0M258.5 503.5h0M264.1 514.8h0M236.5 523.8h0M266.3 514.6h0M275 488.6h0M247.2 514.2h0M242.7 521.9h0M266.2 505h0M208.2 538.3h0M241.9 527h0M216.3 539.8h0M257.7 507.3h0M249.4 505.3h0M253.4 518.2h0M223.5 545.8h0M231.2 525.3h0M252.7 534.1h0M242.7 507.6h0M258.1 517.7h0M233 512.8h0M257.2 517.7h0M265.2 513.4h0M221.3 523.2h0M268.1 513.9h0M253.9 525.6h0M273.2 506.9h0M245.3 534.1h0M233.7 519.5h0M262.7 490.4h0M252.4 511.8h0M238.8 531.5h0M255.9 512.6h0M248.7 518.2h0M258.9 507.9h0M255.3 500.7h0M238.8 516.6h0M240.7 511.1h0M237.1 511.9h0M248.3 519h0M246.2 501.6h0M249.8 515h0M258.5 516.9h0M274.7 496.4h0M261.1 531.1h0M239.6 518.8h0M249.5 519.8h0M232.7 517.8h0M239.7 529.1h0M242.6 512.2h0M224.2 525.5h0M260.8 513.3h0M250.8 511.8h0M251.6 517.3h0M235.8 531.2h0M248.5 506.7h0M245.7 520.5h0M222.6 522.4h0M226.4 523h0M254.7 501.8h0M258.3 511.3h0M262.8 512.7h0M263.1 514.8h0M264.1 507.8h0M250.2 535.1h0M244.5 526.1h0M241.8 516.3h0M239.7 532.4h0M246.9 521.4h0M229.2 511.7h0M230.8 514.1h0M262.1 490.7h0M231.2 517.3h0M259.9 498.6h0M241.6 526.4h0M230.5 514.1h0M261.4 522.6h0M251.9 507.2h0M246.1 525.4h0M249.2 519.6h0M262.4 518.4h0M210.9 537.2h0M251.2 508.2h0M253.1 513.4h0M269.6 509.2h0M243.6 509.5h0M248.5 507.1h0M239.8 523.5h0M237.9 532h0M250 510.4h0M267.8 511h0M260.8 526.5h0M242.4 520.4h0M246.6 540.4h0M246.6 510.6h0M243.3 517.4h0M219.7 520.1h0M245.1 518.8h0M232.6 529.3h0M252.1 528.5h0M271.7 509.5h0M253.9 524.3h0M257.8 508.2h0M262.6 514.6h0M253.9 513.3h0M237 515.7h0M278.2 510.5h0M246 535.9h0M259.9 513.5h0M250.6 526h0M250.6 505.3h0M253.7 503h0M231.6 536.1h0M234.5 521.3h0M226.1 543.7h0M249.2 528.5h0M229.5 523.4h0M247 516.6h0M273.2 513.1h0M252.3 513.8h0M252.2 532.4h0M265.6 509.2h0M259.8 519.4h0M257.3 495.2h0M221.7 523.2h0M261.6 521h0M278.8 512.2h0M238.8 540.3h0M276 489.5h0M256.4 513h0M240 506.7h0M239.1 528.1h0M259.8 505.9h0M255.8 529.3h0M233.8 535.5h0M276.8 503.1h0M239.9 518h0M230.3 532h0M246.6 510.7h0M245 534.7h0M277 520.8h0M253 529.3h0M259.8 513h0M273.3 499.6h0M256.6 514.2h0M278.1 528h0M248.7 526.6h0M272 501.3h0M267.8 494.6h0M247.2 511.3h0M258.4 514.5h0M239.8 512.2h0M261.4 510.2h0M237.4 508.6h0M260.8 502.4h0M239.9 534.9h0M254 527.4h0M254.7 517.5h0M254.4 525.5h0M253.6 499.2h0M235.9 522.4h0M242.3 529.6h0M247.6 510.3h0M250.7 518.5h0M238.2 522.1h0M253.9 522.6h0M233.2 517h0M253 533.6h0M267.8 515.2h0M234.2 511.5h0M221.2 540.4h0M258.7 515h0M233 533.1h0M273.3 511.5h0M220.7 535.9h0M249.7 531.8h0M227.8 523.6h0M231.4 534h0M242 518.7h0M234.1 534.1h0M251.1 515.9h0M237.2 527.1h0M260.9 511.7h0M252.7 513.4h0M242.6 537.1h0M246.2 518.9h0M257.5 504.8h0M254.4 527.6h0M241.2 524.7h0M232.5 532.4h0M240.2 496.7h0M244.7 519.4h0M245.6 536h0M241.2 535.7h0M227.8 522.7h0M235.3 511.3h0M258.8 527h0M244 519.3h0M232.1 531.4h0M235.8 509h0M218.6 545.8h0M261.3 509.1h0M227.9 506h0M274.9 509.7h0M245.6 499.2h0M263.9 518.2h0M227 522.7h0M249.7 514.3h0M226.2 546.1h0M268.5 498.1h0M226.8 531.2h0M222.3 520.5h0M226.7 505.3h0M233.2 517.7h0M287.4 499.6h0M247.8 531.5h0M257.4 508.5h0M250.6 537.1h0M258.1 528.7h0M237.2 528.5h0M253.3 526.1h0M256.2 513.3h0M240.2 498h0M245.7 527.7h0M250.9 532.5h0M237.3 525.6h0M271.8 517.7h0M264.6 514.7h0M254.3 507.6h0M252.5 514.9h0M257.3 505.2h0M270.9 501.5h0M237.1 506.4h0M261.3 510h0M254.1 511.3h0M266.4 504.8h0M249.1 522.9h0M238.6 528.8h0M262.3 504.8h0M249 536.9h0M259.7 515.9h0M268.6 504h0M226.8 532h0M245.9 525.5h0M256.6 514.1h0M247.7 520.3h0M254.9 524h0M239.4 525.7h0M253.8 504.6h0M258.9 501.9h0M251.5 534h0M280.7 502.4h0M265 510.7h0M252.7 502.8h0M255.4 521.9h0M260.8 521.2h0M266.1 491.3h0M224.7 537.1h0M255.2 504.3h0M255 507.9h0M260.9 508.7h0M266.5 498.6h0M261.2 513.8h0M221.9 517.5h0M245.5 529.5h0M257.2 519.7h0M234.8 527.6h0M264.7 502.2h0M236.9 500.9h0M279.8 500.8h0M238.4 507.2h0M232.8 521.6h0M240.8 512.6h0M252.9 517.7h0M278.3 489.1h0M245 530.9h0M240.5 525h0M265.1 489.5h0M265.8 510h0M245 528.8h0M249.7 532.7h0M232.5 530.2h0M261.5 505.5h0M245.5 495.7h0M230.4 521.5h0M259.4 522.1h0M251.5 518.6h0M239.7 515.9h0M271.1 504.9h0M244 531.6h0M224.6 514h0M257.8 511.7h0M227.4 526.1h0M253 538.7h0M274.1 516.8h0M251.7 531.9h0M243.2 512.7h0M268.5 502.2h0M232.3 533.2h0M239.3 518.1h0M228.7 525.6h0M267.5 502.9h0M261.6 482.8h0M236.5 529.5h0M243.2 507.9h0M283.8 513.1h0M228.8 528.6h0M241.6 521.3h0M271 516.1h0M250.2 500.3h0M244.9 510.3h0M271.9 516.1h0M241.2 515.6h0M268.1 505h0M246.8 505.5h0M241.5 511.9h0M236.3 523h0M257.9 526.3h0M231.9 522.7h0M231.2 518.4h0M242 528.5h0M258.2 513.5h0M241.7 537.2h0M234.6 517.9h0M242.2 538.6h0M237.5 516h0M250.7 515.6h0M253.3 510.3h0M249 505.4h0M258.7 507.5h0M261.6 508.8h0M245.1 525h0M244.9 517.5h0M273.9 526.4h0M225.3 535.8h0M246.3 527.4h0M270.9 525.7h0M259.4 499.5h0M255.4 532.2h0M259.9 525.9h0M265.3 502.6h0M257.6 518.5h0M262.8 508.7h0M254.5 527.8h0M268.3 511h0M230.6 524.9h0M246.7 505.7h0M231.9 519.7h0M277.5 512.8h0M249.3 517h0M259.8 501.2h0M245.9 524.7h0M242.6 505.3h0M238.7 527.6h0M240.4 526.5h0M286.9 488.5h0M256.4 519.9h0M229.1 535.7h0M253.4 530.4h0M255.5 521.5h0M253.4 511.5h0M256.5 508.7h0M247.4 524.1h0M239.3 541.9h0M269.4 501.2h0M260.3 521.4h0M247.4 525.5h0M235.7 515.6h0M250.2 526h0M244.6 523.4h0M237.6 525.5h0M246.4 511.6h0M256.6 509.6h0M260.8 504.4h0M256.9 504.4h0M244.5 510.9h0M260 498.7h0M246.4 521.6h0M241.3 535h0M265.1 507.3h0M268.1 487.2h0M193.7 532.5h0M247.1 507.6h0M215.7 543.2h0M249 534.2h0M216 544.3h0M296.2 484.4h0M262.8 513.1h0M251.3 504h0M251.2 522.1h0M270.5 517.7h0M255 520.6h0M241.6 519.7h0M259.4 498.3h0M243.4 513.6h0M239.2 530.8h0M229.4 540.6h0M243.3 519.1h0M260.4 524.7h0M254.3 525.7h0M236.1 530.8h0M263 501.4h0M240.5 524.3h0M246.2 523.1h0M224.2 517.4h0M240 534.7h0M239.5 522.9h0M231.3 527.9h0M252.9 501.8h0M247.5 526.9h0M231.7 520.5h0M236.6 536.3h0M255.3 506.4h0M229.6 529h0M261.8 534.9h0M268.6 518h0M254.2 527.9h0M277 523.8h0M257.4 514h0M242.9 512h0M258.2 511h0M240 514h0M268 504.6h0M263.7 516.9h0M243.8 516h0M294.7 503.8h0M272.6 508.3h0M273.1 499.8h0M240 513h0M243.4 522.5h0M280.9 517.6h0M228.5 507.6h0M237.7 515.7h0M239.9 527h0M241.7 504h0M235.1 529.2h0M237.7 528.8h0M216 547.9h0M227.7 515.4h0M241.6 543.5h0M253.3 513.8h0M232.9 533.1h0M255.9 501.2h0M254.6 508.9h0M268.4 523.2h0M238.2 522.5h0M258.1 503.8h0M246.7 532.7h0M236.6 524.8h0M210 540.4h0M234.2 514.8h0M240.5 537h0M238 540.3h0M249.6 524.7h0M247.9 524.4h0M269.5 477.2h0M262.3 493.9h0M254 524.6h0M241.5 524h0M256.8 517.2h0M236.7 521.5h0M273.3 486.3h0M244.9 511.2h0M255.1 505.4h0M232.2 513h0M247.1 525.3h0M234.7 549.9h0M261.3 511.8h0M252.6 510.8h0M251.7 517.8h0M244.1 537.5h0M235.2 527.6h0M246.4 522.2h0M268.4 499h0M246.2 507.3h0M239.8 506.2h0M273 517.9h0M238.7 505.1h0M249.5 528.7h0M243.4 513.1h0M281.7 514.7h0M273.6 475.7h0M252.9 523.3h0M262.2 502.2h0M252.8 504.7h0M213.7 544.2h0M255.1 502.2h0M241.1 488h0M244.4 506.4h0M256.1 523.2h0M261.5 503.2h0M270.5 506.3h0M233.7 530.2h0M230.2 520.6h0M219.2 541.8h0M237.1 509.3h0M260.3 522.8h0M251.6 524.2h0M250.3 497.8h0M247.1 521.3h0M265 521.6h0M240.3 520.8h0M227.6 517.4h0M245.9 506.4h0M253 527.2h0M254.9 516.2h0M267.6 500.5h0M257.1 500.9h0M238.7 531h0M281.2 490.1h0M237 519h0M241.1 515.7h0M241.6 509.3h0M270.4 486.8h0M245.3 511.7h0M245.1 515.7h0M238.3 527.9h0M265.2 512.1h0M253 522.6h0M288.9 493.9h0M281.1 503.5h0M244 524.9h0M268 509.7h0M261.2 510.2h0M232.3 509.3h0M259.2 508h0M259.6 516.6h0M254 507.1h0M239.7 520h0M237.1 528.3h0M230.5 533.9h0M222.6 536.4h0M239.6 525h0M239.8 517.2h0M245.5 521.3h0M236.3 549.8h0M235.1 527.8h0M234.4 528.8h0M236.9 522.8h0M237.7 515.8h0M240.2 519.1h0M233.1 531.2h0M256.6 513.6h0M249.7 497.7h0M248.6 491h0M254.6 520.6h0M258 521.2h0M278 516.5h0M255.4 521.9h0M268.8 507.8h0M230 529.5h0M222.8 535.4h0M248.4 521.9h0M246 521.2h0M233.7 519.7h0M238.4 508.8h0M245.2 537.1h0M239.7 519.1h0M239.1 524.2h0M251.5 505.5h0M237.3 505.1h0M239.7 527.1h0M247.2 495.5h0M252.9 516.3h0M238.8 529.7h0M259.7 530.4h0M215.1 530.4h0M224.7 523h0M242.3 526.5h0M239.8 534.8h0M255.6 495.9h0M236.6 533.3h0M252.9 499.9h0M243.2 513.3h0M252.1 524.9h0M233.9 514.3h0M220.8 541.3h0M266.7 517.3h0M261.4 508.8h0M273.2 504.2h0M231.8 541.9h0M249.6 515.8h0M250 520.5h0M253.5 525.6h0M234.3 533.2h0M278.1 515.8h0M251.4 530.5h0M249.5 540.8h0M263.3 514.3h0M237.1 513h0M251.6 527.8h0M250.6 507.3h0M241.3 525.5h0M240.1 513.4h0M249.4 522.6h0M227.6 519.5h0M263 511.8h0M244.3 525.2h0M251.5 531.4h0M263 499.9h0M262.8 512.9h0M247.1 522.7h0M282 506.9h0M291.1 503.8h0M259 519.6h0M254.1 522.5h0M247.8 515h0M241.6 524.2h0M244.9 497.6h0M269.8 517.5h0M275.2 508h0M250.6 540.1h0M238.6 526.2h0M234.3 529.8h0M264.6 519.1h0M244.8 534.8h0M260.7 523.1h0M260 530.4h0M261.8 513.4h0M238.1 524.2h0M278.6 513.7h0M233.2 542.8h0M236.7 502.9h0M235.3 525.5h0M228.5 513.6h0M266.9 494.8h0M225.8 518.9h0M277.1 521h0M239.9 524.5h0M267.9 503.3h0M229.7 521.1h0M254.6 507.6h0M252.7 530.4h0M240.1 526h0M257.2 517.3h0M215.6 531.1h0M221.8 529.8h0M246.9 529.5h0M255.7 508.7h0M268.6 509.1h0M246.9 497.3h0M228.2 545.4h0M229.2 514h0M233.4 534.6h0M250.2 510.5h0M253.5 509.5h0M231 527.6h0M248.4 539.2h0M243.8 525.6h0M256.1 511.9h0M252.6 517.6h0M278.6 519.5h0M256.9 530.8h0M250.4 519.3h0M262.3 505.3h0M250.7 520.8h0M237.6 519.1h0M241.1 514.1h0M239.2 522.8h0M244.5 520.5h0M231.9 524.9h0M235.5 539.6h0M225.3 527.1h0M244.1 514.9h0M246.6 527.3h0M267.1 527.2h0M283.5 501.4h0M227.8 537.5h0M268.7 513.8h0M263.6 514.2h0M242.9 503.9h0M262.4 512.8h0M279.1 508.6h0M250.3 506.4h0M232.8 512.3h0M232.9 504.6h0M246.8 506.7h0M227.2 553.8h0M218.5 539.5h0M256.3 503.7h0M267.7 516.6h0M231.1 525.8h0M224.9 519.3h0M259.1 508.1h0M242.5 538.7h0M264.7 505.1h0M246.9 499.7h0M251.3 516h0M277.2 514.4h0M233.2 525.1h0M261.3 517.7h0M242.7 506.9h0M246.9 520.1h0M253.9 534.7h0M265.9 499.7h0M237.7 539.4h0M246.3 506.4h0M237.4 524.8h0M247.6 514.2h0M279.9 502.9h0M260.3 522.3h0M254.1 527.8h0M208.4 539.5h0M257.9 518.5h0M253.7 520.2h0M252.6 515.2h0M252.2 503.3h0M267.5 527.8h0M231.3 515.7h0M252.7 522.2h0M237.7 519.7h0M273.1 504.8h0M262.6 507.2h0M235.5 523.6h0M266.3 513.9h0M234.1 534.3h0M270.1 528.2h0M247.9 516.2h0M275.9 486.4h0M286.6 499.2h0M274.2 498.1h0M265 486.3h0M265.6 500h0M257 511.9h0M222.1 528.9h0M250.1 520.9h0M238.8 536h0M282.5 485.5h0M259 533.7h0M266.2 518h0M233.1 522.4h0M245.4 516.7h0M280.1 472.5h0M259.7 473.8h0M257.8 517.2h0M289.1 496.4h0M231.2 517.8h0M237 528.5h0M268.8 490.6h0M202.5 532.2h0M288.8 487.2h0M278.5 519.6h0M288.6 505.5h0M281.9 485.4h0M236.7 507.1h0M263.5 511.1h0M235.4 514.7h0M234 546.8h0M249.2 492.1h0M226.7 540h0M263.3 514.6h0M246.9 506.4h0M228.6 524.2h0M238.1 559.8h0M255 510.2h0M227.5 542.9h0M222.9 525.9h0M255.3 506h0M267.3 512.4h0M195.5 538.6h0M263.7 523.1h0M234.1 513.2h0M284.9 509.7h0M250.1 517.4h0M229.7 513.9h0M258.9 534.1h0M212.3 540.2h0M250.1 523.2h0M256.9 520.9h0M267.1 504.4h0M243.3 507.7h0M260.9 507.5h0M279.6 491h0M277.3 497.4h0M223.3 528.7h0M295.5 481.6h0M272.1 517.8h0M267.4 490.1h0M266.1 516.3h0M265.6 507.6h0M255 497.9h0M255.3 517.7h0M242.6 527.6h0M262.3 517.9h0M267.8 548.1h0M197.6 546.9h0M255.6 483.7h0M257.8 503.6h0M232.3 523.1h0M264.3 508.7h0M243 545.5h0M288.4 513.8h0M264.6 526.2h0M239.1 528.2h0M270.4 496.1h0M238.5 512.7h0M264.1 521.9h0M220.6 538.2h0M271.6 494.5h0M263.8 490.6h0M222.2 530.2h0M293.2 494.2h0M234.7 542.5h0M241.4 510.3h0M237.4 519.9h0M265.7 497.6h0M300.4 518.1h0M253.3 524.9h0M245.7 490.8h0M239.5 519.5h0M267.3 506.4h0M248.5 537.2h0M231.4 535h0M233.5 519.4h0M268.7 515.1h0M243.5 527.6h0M224.4 522.6h0M240.8 539.6h0M260.9 512.7h0M257.4 520.3h0M267.9 496.1h0M256.3 544.7h0M240.5 509.7h0M283.1 500.6h0M272.4 506.1h0M253 551.7h0M277.8 491.6h0M240.7 515h0M260.1 518.4h0M236.5 522.1h0M268.6 512.4h0M269.5 486.9h0M261.3 539.5h0M235 527.4h0M233.8 527.6h0M247.9 510.8h0M271.3 504.5h0M258.3 531.3h0M245.4 542.1h0M255.5 515h0M266 517.6h0M238.8 527.3h0M254.6 494.4h0M273.4 514h0M220.9 521.4h0M263.2 499.4h0M261.9 517h0M219.9 523.5h0M261.4 511.9h0M260 489.5h0M261 459.3h0M283.3 469.8h0M267.5 479.4h0M298.2 480.7h0M254 480.7h0M169.6 592.8h0M154 576h0M175 563h0" stroke="#bebebe" stroke-width="2.9" stroke-linecap="round" fill="none"/>
<path d="M158.4 535.3h0M158.7 539.9h0M158.2 558.3h0M158.2 544.9h0M163.1 571.8h0M161.9 560.9h0M163.1 546h0M162 552.7h0M162.5 564.4h0M163.7 563.2h0M162.7 573.9h0M163.7 556.1h0M162.7 558.6h0M162 562.6h0M163.2 557.2h0M163 571.1h0M163 564h0M163.6 565.5h0M162.7 572.6h0M163.7 544.6h0M163.8 547.3h0M163.6 562.6h0M166.1 554.3h0M165.1 549.8h0M164.7 548.1h0M164.8 567.1h0M165.6 568.2h0M166.5 556.9h0M164.9 569.2h0M164.7 558.9h0M166.2 548.4h0M165 562.6h0M167.2 569.7h0M168.5 559.7h0M168.6 546.5h0M168.7 559.2h0M167.8 568.1h0M167.9 543.4h0M168.4 543.2h0M168.1 549h0M167.8 555.4h0M168.4 562.4h0M167.7 549.3h0M168.6 544.1h0M168.2 565.3h0M168.3 542.8h0M167.2 562.6h0M168.6 562.3h0M169 564.4h0M167.9 572.6h0M170.5 547.8h0M170.8 545.7h0M171.1 558.3h0M170.4 560.3h0M170.9 562.5h0M176.5 571.2h0M176.3 540.4h0M176 565.4h0M175.3 552.4h0M175.9 547.9h0M175.1 548.6h0M175.7 570h0M176.9 573.2h0M176.7 579.3h0M178.5 555.5h0M177.6 558h0M179.2 548.6h0M178.7 542.4h0M179.4 550.7h0M181.1 545.5h0M181.9 570.4h0M181 555.8h0M180.8 561.9h0M181.4 566.8h0M180.2 555.1h0M182.1 538.8h0M181.5 550.8h0M180.4 548.2h0M182.1 545.3h0M181.1 567.5h0M180.4 538.8h0M181.4 559.2h0M183.1 578.5h0M184.5 568.8h0M183.5 581.9h0M183.4 585h0M184.1 581.4h0M184.1 569.2h0M184.9 562.5h0M186 570.9h0M187.4 541.5h0M187.1 563.6h0M185.8 545.2h0M185.5 566.3h0M185.6 566.3h0M187 571.5h0M185.6 565.4h0M185.6 540.9h0M187.1 541.9h0M186.9 571.5h0M186.4 551.8h0M189.8 552.7h0M190 553.8h0M188.9 540.9h0M189.8 555.1h0M188.3 553.8h0M192.9 546.7h0M192.7 533.1h0M193.3 557.2h0M193.8 562.3h0M194.2 558.3h0M192.9 559.4h0M193.9 534.4h0M192.4 564.6h0M192.7 563.1h0M194.3 545.9h0M193.5 532.8h0M192.6 562.3h0M193.6 539.8h0M192.8 532.9h0M193.9 540.3h0M192.5 561.3h0M193 536.4h0M193.5 543.9h0M193.5 547.4h0M193.5 540.1h0M193.4 566.3h0M192.8 545.9h0M193.3 547.1h0M193.1 553.9h0M194.3 535.7h0M193.3 567.2h0M195.1 556h0M195.8 548.7h0M196.6 539h0M195.2 553.9h0M197.1 546.7h0M197 549h0M196.5 554.8h0M196.6 554.4h0M196.5 556.8h0M195.6 563.4h0M196.3 548.6h0M196.4 542.4h0M195.6 564.7h0M195.5 542.9h0M196.3 548.4h0M195.3 539.6h0M196.6 534.4h0M196.1 533.3h0M195.3 567.2h0M196 547.2h0M195.2 535.3h0M196.1 565.3h0M197 544.6h0M196.1 537.6h0M196.8 534.4h0M195.7 536.5h0M199.5 556.3h0M198.9 541.3h0M199.8 534.8h0M199.5 540.9h0M199.8 539.2h0M199.7 555.8h0M198.6 537.7h0M199.3 534.1h0M199.2 540.6h0M199.3 534.9h0M202.6 540.9h0M202.4 557.7h0M201.5 543h0M202.6 556.5h0M203 532.1h0M202 543.9h0M203 549.5h0M201.9 536.9h0M202.1 543.6h0M201.2 554.3h0M203 546h0M202.1 563.5h0M203.1 566.5h0M202.7 537.8h0M201.9 543.6h0M202.8 560.1h0M202.8 536.7h0M201.7 567.7h0M201.9 553h0M202.1 557.5h0M201.2 560.9h0M205.6 551.5h0M204.5 551.4h0M204.2 553.6h0M205.4 548.6h0M205.3 551.4h0M205.3 557.3h0M205.3 557.5h0M205.2 534.3h0M204.2 557.5h0M204 556.3h0M205.2 535.9h0M205.6 552.1h0M204.2 541.6h0M205.2 549.5h0M205 555.9h0M204.4 556h0M208.4 564.2h0M207.4 540.6h0M207.5 546.5h0M207.8 534.4h0M207.1 534.6h0M206.7 543.1h0M207.6 561.9h0M207.2 565.6h0M207.5 568.3h0M207.2 543.6h0M206.8 561.8h0M207.7 568h0M207.5 560.8h0M206.8 567.3h0M206.6 538.4h0M208.5 533.8h0M208.4 569.8h0M206.6 547.4h0M208.1 568.8h0M207.6 566.4h0M207.3 560.1h0M206.6 556.6h0M206.9 559.2h0M210.6 529.8h0M210.9 535.2h0M211 529.2h0M210.9 534.9h0M210.7 545.5h0M211.5 542h0M210.9 536.7h0M211.2 549h0M210.5 532.4h0M211.4 536.2h0M211.5 544h0M210.2 538.3h0M211.9 551.5h0M211.3 555.9h0M212 550.2h0M211.7 542.5h0M214.3 534.3h0M214.4 549.6h0M214.1 549.1h0M213.9 543h0M212.7 544h0M212.7 547.8h0M214.1 547.3h0M214 534.1h0M215.9 537.2h0M216.5 540.5h0M215.5 544.2h0M216.3 541.7h0M215.4 542.7h0M215.8 525.3h0M215.2 526.5h0M215.7 525.5h0M216.2 540.3h0M215 543.8h0M216.3 523h0M216.2 536.7h0M219.1 543.9h0M218.5 540.9h0M217.7 539.5h0M218.7 539.7h0M218.2 526.9h0M218.1 525.2h0M218.6 538h0M218.5 540.7h0M217.9 536.2h0M218.9 536.7h0M221.4 527.1h0M221.6 527.6h0M222.4 528.8h0M221.4 539.1h0M222.2 538.4h0M226.1 523.2h0M225.3 538.3h0M225.3 522.4h0M226.4 528.8h0M225.3 527.5h0M226.4 524.1h0M225.9 525.7h0M226.2 537.9h0M226.4 535.4h0M229.6 524.2h0M228.2 535.5h0M229 529.8h0M229.7 527.5h0M232 531.8h0M232.4 527.4h0M231.5 532.2h0M232.2 529.4h0M275.5 514h0M275.5 504.4h0M275.1 508.4h0M274.4 519h0M275 506.4h0M274.8 509.8h0M275.2 530.8h0M275.3 529.9h0M274.8 495h0M274.6 525.9h0M274.5 522.9h0M275.6 523.9h0M275 501.8h0M278.1 500.3h0M277.1 511.2h0M278.2 530.9h0M277.7 494.5h0M277.7 509.7h0M277.9 507.3h0M277.6 525.5h0M278.1 502.5h0M277.8 494.7h0M277.7 493.5h0M277.9 507.7h0M278.2 512.2h0M277.3 521.8h0M277.6 514.1h0M280.8 507.6h0M280.5 497.4h0M280.3 498.1h0M280.5 510h0M280.2 506.5h0M279.9 523.5h0M280.9 505h0M281.1 517.2h0M280.5 504.9h0M280.7 520h0M283.3 504.9h0M283.4 497.7h0M283.4 521.4h0M282.4 496.1h0M283.2 511.9h0M282.6 491.7h0M283.5 521.7h0M283.5 493h0M283.3 504.8h0M282.8 500.3h0M283.3 503.3h0M282.6 492h0M282.5 504.1h0M283.3 508.8h0M283.6 518.4h0M283.5 507.7h0M283 512.5h0M283.2 496.4h0M283.1 505.1h0M285.5 505.7h0M285.5 509h0M285.3 496.3h0M286.1 513.1h0M285.2 515.2h0M285.8 501.3h0M285.2 497.5h0M284.9 499h0M286 519.2h0M285.7 519.3h0M285 507.3h0M286.1 499.4h0M284.9 518.1h0M285.6 518.2h0M285 515.3h0M285.6 516.3h0M287.8 491.9h0M288.2 501.6h0M287.6 495.8h0M287.5 509.8h0M288.3 493.9h0M287.6 516.5h0M287.7 509.2h0M287.6 516.3h0M288.1 493.7h0M287.8 511.8h0M287.7 495.1h0M287.9 491.7h0M287.5 494.6h0M287.8 516.3h0M288.5 503.2h0M288.3 516.6h0M288.6 497.9h0M288.2 518.8h0M288.3 492.3h0M290.8 514.3h0M290.5 493.2h0M289.9 492.2h0M290.5 509.3h0M289.9 516.2h0M290.3 496h0M290.5 499.7h0M290.1 498.1h0M290.7 494.9h0M290.1 496h0M290.6 511.6h0M290.3 496.5h0M289.8 518.9h0M292.7 490.1h0M292.8 516.3h0M292.2 520.1h0M292.2 503h0M292.5 520.7h0M292.6 513.1h0M292.9 497.6h0M292.6 503.7h0M292.4 494.7h0M292.2 521.6h0M293.1 493.5h0M293.2 499.6h0M292.9 503.9h0M292.6 502.5h0M292 505.7h0M292.3 519.3h0M292.8 497.6h0M293 507.8h0M292.8 513.1h0M296.3 495.3h0M296.4 513.2h0M296.3 513.3h0M295.7 521.4h0M296.3 519.1h0M295.7 498.4h0M296.5 521.9h0M296.2 493.1h0M295.7 506.5h0M295.4 499.5h0M296.1 519.5h0M296.2 518.3h0M295.6 517.6h0M295.7 496.6h0M296.2 496.3h0M295.4 511.9h0M295.5 509.7h0M295.5 505.2h0M296.5 502.2h0M297.9 512.3h0M298.8 501.9h0M298.6 496.1h0M297.7 495.6h0M298.4 509.6h0M297.9 493.5h0M298.1 496.5h0M298.1 508.7h0M298.1 508.6h0M298.5 512.9h0M300.5 509.4h0M300.2 500.5h0M300 493.3h0M300.2 506.9h0M300.9 498.6h0M300.2 495.9h0M300.5 498.6h0M301 503.5h0M300.2 500.9h0M300.4 509.1h0M300 505.9h0M300.1 497.2h0M299.8 494.3h0M303.3 493.6h0M303.7 490h0M303.3 500.6h0M303.5 501.7h0M303.1 493.5h0M303.8 511.8h0M303.1 489.1h0M304 511.9h0M306.1 522.5h0M306.3 519.9h0M305.7 482.9h0M306.6 501.6h0M305.7 514.5h0M305.6 490.1h0M306.5 513.2h0M306.2 507.6h0M306.3 492.9h0M306 508.1h0M305.9 515.2h0M306.7 508.3h0M305.8 493.9h0M306.3 500.7h0M306.1 482.8h0M306.1 497.7h0M305.7 523.4h0M306.5 522.5h0M305.9 510.7h0M306.5 492.4h0M306.3 512.3h0M306.3 504.9h0M307.9 490.3h0M308 495h0M308.1 489.1h0M307.7 504.8h0M308 502.7h0M308.7 488.3h0M309.7 489.5h0M309.5 489.2h0M310.2 506.9h0M309.7 500.5h0M310.3 507.8h0M310.3 509h0M309.6 485.8h0M310.4 497.5h0M314.7 489h0M314.8 488.8h0M314.4 490.9h0M314.7 486.3h0M314.9 484.8h0M314.3 487.5h0M315.1 483.1h0M314.2 482.1h0M314.7 486.2h0M314.5 484.9h0M314.3 487.4h0M314.5 467.5h0M314.5 477.7h0M318.3 485.9h0M335.1 458.8h0M333.9 482.8h0M332.5 490.3h0M346.3 511.1h0M374.3 523.5h0M281 535h0M279 538.5h0M284 530h0M289 481.5h0M290 485h0M296 489.4h0M304.8 482.4h0M310 481.5h0M44.6 601.7h0M87.5 544.5h0M87.5 570.2h0M87.5 574.6h0M87.5 587.9h0M85.5 589.6h0M86.5 594.6h0M84.8 601.9h0M85.8 611h0M87.5 625.7h0M76.8 582.9h0M76.8 589.6h0M76.8 596.3h0M76.8 600.3h0M80.5 605.3h0M80.5 608.6h0M76.8 614.3h0M104.5 570.9h0M108.2 577.9h0M108.2 590.3h0M108.2 593.6h0M108.2 597.6h0M108.2 604.3h0M108.2 607.6h0M115.9 579.6h0M119.5 572.9h0M119.5 583.6h0M120.2 586.9h0M120.2 595.9h0M120.2 599.3h0M120.2 608.3h0M125.2 568.6h0M125.2 581.2h0M126.2 586.6h0M125.2 591.9h0M125.2 598.6h0M125.2 609.3h0M125.2 612h0M133.6 570.2h0M133.6 595.9h0M134.2 598.6h0M146.2 542.5h0M150.3 554.5h0M150.9 558.5h0M148.6 568.6h0M150.3 569.9h0M150.3 575.2h0M149.2 582.9h0M158.6 518.5h0M158.6 537.8h0M161.9 534.5h0M204.1 486.6h0M192.7 491.4h0M192.7 492.8h0M192.7 498h0M192.7 499.8h0M192.7 501.5h0M192.7 504.2h0M197.8 516.4h0M197.8 518.2h0M201.8 515.9h0M215.6 489h0" stroke="#000" stroke-width="2.9" stroke-linecap="round" fill="none"/>
<path d="M226.1 522h0M265.5 500.9h0M259.2 511.8h0M241.6 519.8h0M253.5 543.4h0M255.6 507.8h0M270.5 503.3h0M245.9 517h0M241.8 534.8h0M274.1 488.8h0M247 498.4h0M242.1 545.3h0M214.2 508h0M221.3 526.6h0M250.5 512.3h0M273.6 518.4h0M226.8 535.9h0M266.4 502h0M240.2 540.1h0M251.9 529.2h0M267.3 506.3h0M243.5 535.7h0M282.1 490.4h0M232.8 513.3h0M225 522.1h0M261.2 526.6h0M248.4 525.5h0M262.9 532.9h0M247.3 521.9h0M250.1 507h0M281.2 487.4h0M241.2 520h0M261.8 507.4h0M240.7 529.6h0M239.5 528.7h0M247.2 511.5h0M231.4 519h0M250.3 530.9h0M221.9 545h0M236.4 512.1h0M251 537.5h0M254.1 511.5h0M249.1 514.4h0M296.7 478.6h0M244.4 515.9h0M244.8 519.1h0M252.5 511.8h0M272.5 507.6h0M254.3 529h0M244.9 514.4h0M238.1 521.7h0M257.7 514.4h0M249.7 512.4h0M245.1 525.3h0M229.7 524.3h0M257.5 504h0M243.2 523.8h0M253 524.7h0M235.6 547.8h0M251.4 533.2h0M226.3 552.7h0M257.9 519.3h0M275.4 506.8h0M254.7 516.8h0M246.1 523h0M262.1 521.3h0M262.4 501.5h0M240.1 536.1h0M261.3 516.2h0M251.5 521.5h0M256.8 521.7h0M260.7 500h0M237.7 509.2h0M255.4 530.9h0M261.8 517h0M248.7 520.3h0M239.4 513.5h0M237.3 531.9h0M249.7 507.1h0M243.6 527.3h0M245.9 527.6h0M251.6 505.1h0M248.1 509.5h0M229.7 531.3h0M228.4 536h0M222.1 533.3h0M263 514h0M245.8 516.5h0M240.2 509.3h0M248.4 519.5h0M245.5 524.6h0M249.2 526.8h0M268.6 510h0M256.4 507.8h0M228.4 527.5h0M266.5 510.8h0M260.1 527.9h0M266.4 518.7h0M274.4 487.1h0M242.2 532.4h0M268 515.1h0M241.8 505.6h0M243.3 528.9h0M253.6 504h0M265.8 513.7h0M249 517.4h0M244.1 521.6h0M267.5 500.3h0M261.2 500.3h0M252.8 493.3h0M222.2 552.1h0M243 517.8h0M250.9 519.2h0M251.8 515.4h0M264.2 518.7h0M242.5 532.7h0M245.3 515.2h0M223.5 524h0M250 529.6h0M284.1 482.7h0M234.2 527.2h0M230.9 532.1h0M259 509.5h0M238.6 536.3h0M253.4 518.2h0M250.7 514.9h0M254.7 512.6h0M261.3 498.3h0M249 519.1h0M259.1 538.6h0M241.1 518.5h0M259.2 518.2h0M244.8 500.5h0M229.4 520.8h0M253.6 502.8h0M241 529.8h0M249.4 525h0M250.7 519.9h0M243.1 523.9h0M240.2 528.3h0M239.3 536.3h0M261.5 504.7h0M254.4 527.4h0M299.5 505.7h0M267.5 520.2h0M272.7 514.8h0M251.2 526.9h0M228.1 517.8h0M230.1 542.4h0M248.3 512.6h0M231.8 528h0M236.5 518.4h0M241.9 510.2h0M231.5 537h0M247.1 514.5h0M247 501.4h0M279.7 499.4h0M259.5 515.2h0M274.5 493.1h0M228.2 538.8h0M247.6 508.2h0M247.6 527.1h0M269.1 512.6h0M250.6 518.1h0M250.5 518.5h0M262.3 501.3h0M251.3 536.9h0M241.7 512.2h0M242.9 522.4h0M242.5 525.5h0M261.6 514.6h0M246.7 526.6h0M224.7 542.8h0M244.6 532.7h0M243.5 525.1h0M261.2 520.7h0M270.1 511.1h0M237.1 514.4h0M247.4 534h0M234.2 543.4h0M260.7 520.4h0M239.1 528.3h0M218.2 540.1h0M266.8 509.4h0M257.7 524.6h0M256.3 515.4h0M258.2 519.7h0M256.7 495h0M249.7 521.1h0M263.2 504.8h0M222.6 520.9h0M261.2 510h0M269.3 528.5h0M228 521h0M244.8 532.1h0M248.7 527.2h0M253.6 520.1h0M261.2 519.4h0M254.9 523.4h0M230.3 516.3h0M227.8 533.2h0M265.1 498.9h0M245.4 513h0M234.3 534.3h0M233.3 518.3h0M271.2 497.2h0M244.8 538.4h0M232.7 530.8h0M258.8 513.4h0M216.7 531.7h0M260.1 518.4h0M242.3 524.1h0M244.1 507.9h0M260.1 510.7h0M221.1 543.9h0M236.5 533.6h0M255.2 525.9h0M235.1 516.3h0M238.8 516.7h0M255.4 515.9h0M265.2 500.3h0M267.4 510.6h0M281.7 515.5h0M268.4 494.7h0M245.9 517.8h0M253 527.3h0M258.8 515.7h0M256 521h0M253.8 534.5h0M260.2 526.3h0M236.7 515.7h0M246.3 503.1h0M250.1 520.3h0M242.4 515.7h0M226.4 523.4h0M252.6 526h0M256.3 515.8h0M234.3 529.4h0M224.3 533.2h0M246.9 524.8h0M261.3 526.1h0M258.8 510.6h0M217.3 525.8h0M238.4 516h0M249.7 508.7h0M219.3 534.9h0M232 516.8h0M251.2 511.7h0M232.9 553.9h0M260.7 501.5h0M244.7 519h0M239.2 516.7h0M249.7 513.4h0M256.1 499.5h0M236.6 547.5h0M241.9 512.5h0M233 526.7h0M246.7 549.3h0M257.9 519.5h0M255.4 518.2h0M260 489.1h0M237.3 524.7h0M252.8 527.4h0M233.3 513.8h0M228.5 528.4h0M252.5 514.9h0M251.8 522.4h0M252.5 501.7h0M232.1 546.4h0M247.7 511.4h0M251.6 526.9h0M260.1 501.4h0M259.5 522.5h0M250 530h0M240.2 517.5h0M240.2 527.4h0M266.1 524.7h0M260.7 499.8h0M263.7 500.3h0M218.1 521.7h0M255 518.4h0M241.1 512.3h0M248.7 512.9h0M235.5 520.4h0M248 508.4h0M216.1 512.9h0M241.4 515.6h0M235.3 542.1h0M241.9 527.8h0M257.7 523.3h0M239.7 517.2h0M233.4 511.6h0M248.8 530h0M231.7 535.8h0M258.9 515.8h0M254.1 520.7h0M213.1 556.4h0M242.2 526h0M258.9 517.1h0M242.5 509.2h0M268.6 503.7h0M261.6 496.5h0M257.6 509.8h0M240.8 514.2h0M248 518.9h0M225.8 528.6h0M272.3 518.8h0M243.9 520.2h0M235.1 525.5h0M247.8 524.4h0M236.5 533.3h0M260.3 520.8h0M221.1 515.6h0M269.2 501.3h0M257.5 523.3h0M230.1 536.9h0M240.6 514.5h0M227.8 538.5h0M272.5 516.9h0M226 525.2h0M251.8 496.2h0M238.3 504.8h0M255.5 504.4h0M229.5 530.8h0M243.7 523.2h0M258.7 521.9h0M267.6 501.7h0M243.6 526.7h0M263.7 502.1h0M255.2 518.6h0M249.1 526.8h0M255.5 513.3h0M263.1 502.4h0M264.4 511.7h0M236.7 540.2h0M257.6 503.4h0M262.2 506.7h0M253.2 511.7h0M265.7 508.9h0M256.7 503h0M252.6 534.1h0M225.7 531.7h0M257.4 521.2h0M248.8 526h0M244.1 522h0M251 531.2h0M265.5 527.9h0M263.3 525h0M247 498.9h0M231 521.2h0M281.8 500.7h0M266.9 522.9h0M253.1 534.8h0M248.1 521.3h0M256.4 513.5h0M260.7 521.1h0M272.1 489.7h0M237.5 530.8h0M248.3 536.1h0M249.3 509.6h0M256.9 508.1h0M250.8 510.9h0M274.2 499.4h0M261.1 517.4h0M259.7 508h0M248 533.6h0M247.5 507.7h0M254.7 514.3h0M233.7 516.6h0M269.8 512.5h0M239.6 520.3h0M285.8 494.2h0M269.3 514.7h0M225.2 524.2h0M253.7 509.6h0M229.6 530.4h0M257.1 530.8h0M270.7 501.7h0M244.7 522.6h0M264.3 521.4h0M232.9 507.9h0M225.8 511h0M263.6 501.2h0M265.9 504.5h0M201.5 514.5h0M271.2 518h0M272.5 521.3h0M271.7 508.7h0M222.2 524.4h0M224.9 531.7h0M218.4 550.8h0M262.5 531h0M263.8 536.1h0M233.7 527.9h0M288.5 512.2h0M257 509h0M213.9 542.5h0M222.4 529.7h0M249.4 513.8h0M250.6 525h0M271.8 522.2h0M254.6 519.3h0M234.8 529.1h0M253.3 511.4h0M210.7 560.2h0M241.8 515.6h0M219.3 512.2h0M244.8 531.5h0M261.1 524h0M230.7 542.7h0M263.4 491.1h0M261.1 505.5h0M235.6 524.7h0M254.5 500.6h0M234 517.1h0M238.3 496.7h0M263.9 507.2h0M252.9 519.3h0M217.9 553.3h0M259.3 509.1h0M269.7 526.8h0M265.8 493.1h0M245.9 519.3h0M248.1 522.4h0M223.9 515.5h0M200.8 558.7h0M258.7 522h0M225.7 537.8h0M250.4 518.7h0M230.6 531.3h0M199.2 546.9h0M269.8 514h0M215.3 552.3h0M254.6 535.8h0M249 508.9h0M263.3 494.6h0M251.5 527h0M245.8 539h0M258.9 521.1h0M267.5 537.2h0M246 516.3h0M259 529h0M372.3 519.9h0" stroke="#bebebe" stroke-width="2.9" stroke-linecap="round" fill="none"/>
<line x1="28.2" y1="525.3" x2="391" y2="525.3" stroke="#000" stroke-width="1.0" stroke-dasharray="2.7 2.3"/>
<line x1="254.5" y1="451.6" x2="254.5" y2="634.2" stroke="#000" stroke-width="1.0" stroke-dasharray="2.7 2.3"/>
<text x="205.3" y="481.2" font-size="5.2">VIM</text>
<text x="180.5" y="485" font-size="5.2">AKR1C4</text>
<text x="168.9" y="493.1" font-size="5.2">AKR1C4</text>
<text x="218.8" y="489.6" font-size="5.2">AKR1C4</text>
<text x="196.2" y="498.4" font-size="5.2">AKR1C4</text>
<text x="155.4" y="501" font-size="5.2">AKR1C4</text>
<text x="171.5" y="509" font-size="5.2">AKR1C4</text>
<text x="197.5" y="508.5" font-size="5.2">AKR1C4</text>
<text x="160.3" y="516.6" font-size="5.2">GATM</text>
<text x="141" y="525" font-size="5.2">ANPEP</text>
<text x="87.5" y="543.1" font-size="5.2">ADH1B</text>
<text x="67.4" y="551.8" font-size="5.2">ADH1B</text>
<text x="90.2" y="551.8" font-size="5.2">ADH1B</text>
<text x="367.7" y="529.9" font-size="5.2">DHCR24</text>
<line x1="206.6" y1="482.3" x2="204.1" y2="486.6" stroke="#000" stroke-width="0.65"/>
<line x1="190.8" y1="486.1" x2="192.7" y2="491.9" stroke="#000" stroke-width="0.65"/>
<line x1="192.7" y1="498" x2="217.1" y2="488.4" stroke="#000" stroke-width="0.65"/>
<line x1="175.9" y1="499.3" x2="192.2" y2="500.1" stroke="#000" stroke-width="0.65"/>
<line x1="191.7" y1="505" x2="192.7" y2="502.4" stroke="#000" stroke-width="0.65"/>
<line x1="192.7" y1="500.7" x2="197.1" y2="505" stroke="#000" stroke-width="0.65"/>
</svg>
</body></html>
